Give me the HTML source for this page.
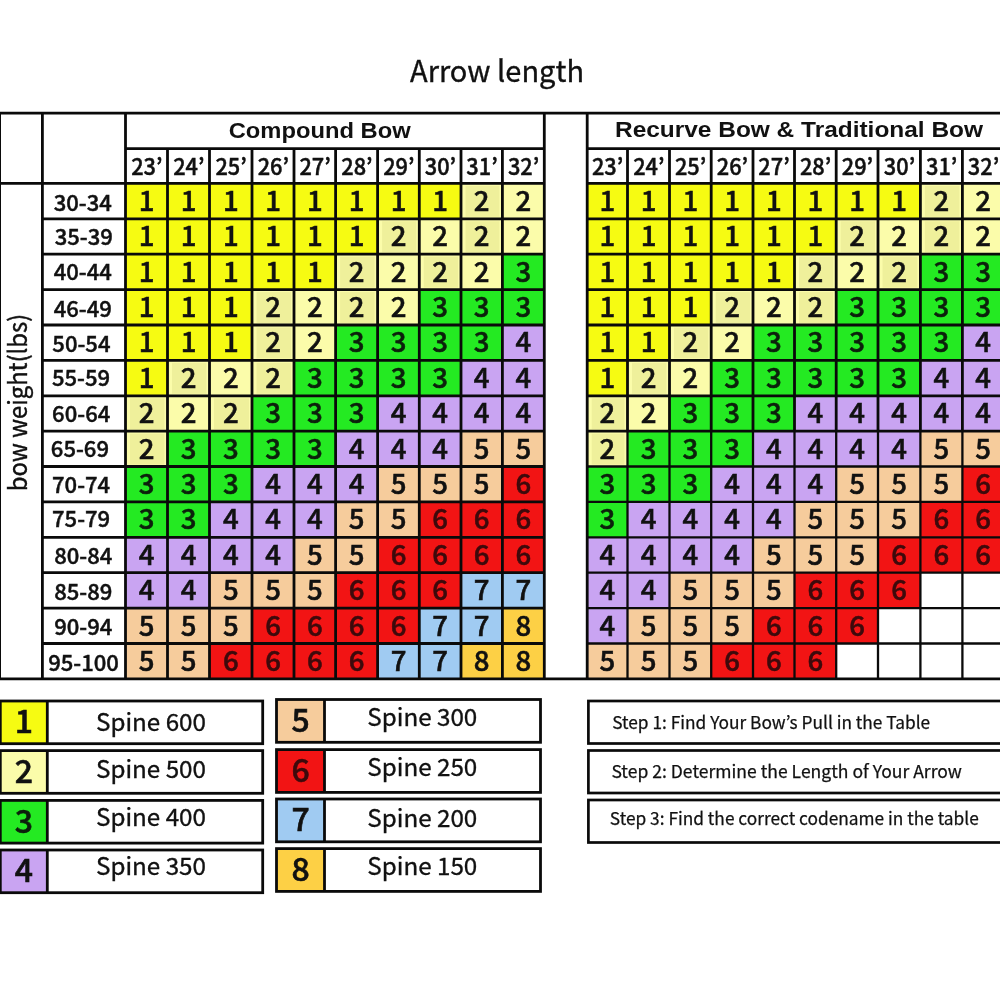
<!DOCTYPE html>
<html lang="en"><head><meta charset="utf-8"><title>Arrow length spine chart</title>
<style>html,body{margin:0;padding:0;background:#fff}body{width:1000px;height:1000px;overflow:hidden}svg{display:block}</style></head>
<body>
<svg width="1000" height="1000" viewBox="0 0 1000 1000">
<rect width="1000" height="1000" fill="#fff"/>
<text x="497" y="82.2" font-family='"Noto Sans CJK JP","Noto Sans CJK SC","Liberation Sans",sans-serif' font-size="29.5" text-anchor="middle" textLength="174" lengthAdjust="spacingAndGlyphs" fill="#111" stroke="#111" stroke-width="0.35">Arrow length</text>
<rect x="125.5" y="183.4" width="42.0" height="35.4" fill="#f6fb12"/>
<rect x="167.5" y="183.4" width="42.0" height="35.4" fill="#f6fb12"/>
<rect x="209.5" y="183.4" width="42.5" height="35.4" fill="#f6fb12"/>
<rect x="252.0" y="183.4" width="42.0" height="35.4" fill="#f6fb12"/>
<rect x="294.0" y="183.4" width="41.6" height="35.4" fill="#f6fb12"/>
<rect x="335.6" y="183.4" width="42.0" height="35.4" fill="#f6fb12"/>
<rect x="377.6" y="183.4" width="41.7" height="35.4" fill="#f6fb12"/>
<rect x="419.3" y="183.4" width="41.7" height="35.4" fill="#f6fb12"/>
<rect x="461.0" y="183.4" width="41.4" height="35.4" fill="#fbfcaa"/>
<rect x="465.5" y="185.9" width="33.9" height="30.9" fill="#eff09b"/>
<rect x="502.4" y="183.4" width="41.9" height="35.4" fill="#fbfcaa"/>
<rect x="125.5" y="218.8" width="42.0" height="35.4" fill="#f6fb12"/>
<rect x="167.5" y="218.8" width="42.0" height="35.4" fill="#f6fb12"/>
<rect x="209.5" y="218.8" width="42.5" height="35.4" fill="#f6fb12"/>
<rect x="252.0" y="218.8" width="42.0" height="35.4" fill="#f6fb12"/>
<rect x="294.0" y="218.8" width="41.6" height="35.4" fill="#f6fb12"/>
<rect x="335.6" y="218.8" width="42.0" height="35.4" fill="#f6fb12"/>
<rect x="377.6" y="218.8" width="41.7" height="35.4" fill="#fbfcaa"/>
<rect x="382.1" y="221.3" width="34.2" height="30.9" fill="#eff09b"/>
<rect x="419.3" y="218.8" width="41.7" height="35.4" fill="#fbfcaa"/>
<rect x="461.0" y="218.8" width="41.4" height="35.4" fill="#fbfcaa"/>
<rect x="465.5" y="221.3" width="33.9" height="30.9" fill="#eff09b"/>
<rect x="502.4" y="218.8" width="41.9" height="35.4" fill="#fbfcaa"/>
<rect x="125.5" y="254.2" width="42.0" height="35.4" fill="#f6fb12"/>
<rect x="167.5" y="254.2" width="42.0" height="35.4" fill="#f6fb12"/>
<rect x="209.5" y="254.2" width="42.5" height="35.4" fill="#f6fb12"/>
<rect x="252.0" y="254.2" width="42.0" height="35.4" fill="#f6fb12"/>
<rect x="294.0" y="254.2" width="41.6" height="35.4" fill="#f6fb12"/>
<rect x="335.6" y="254.2" width="42.0" height="35.4" fill="#fbfcaa"/>
<rect x="340.1" y="256.7" width="34.5" height="30.9" fill="#eff09b"/>
<rect x="377.6" y="254.2" width="41.7" height="35.4" fill="#fbfcaa"/>
<rect x="419.3" y="254.2" width="41.7" height="35.4" fill="#fbfcaa"/>
<rect x="423.8" y="256.7" width="34.2" height="30.9" fill="#eff09b"/>
<rect x="461.0" y="254.2" width="41.4" height="35.4" fill="#fbfcaa"/>
<rect x="502.4" y="254.2" width="41.9" height="35.4" fill="#24ea22"/>
<rect x="125.5" y="289.6" width="42.0" height="35.4" fill="#f6fb12"/>
<rect x="167.5" y="289.6" width="42.0" height="35.4" fill="#f6fb12"/>
<rect x="209.5" y="289.6" width="42.5" height="35.4" fill="#f6fb12"/>
<rect x="252.0" y="289.6" width="42.0" height="35.4" fill="#fbfcaa"/>
<rect x="256.5" y="292.1" width="34.5" height="30.9" fill="#eff09b"/>
<rect x="294.0" y="289.6" width="41.6" height="35.4" fill="#fbfcaa"/>
<rect x="335.6" y="289.6" width="42.0" height="35.4" fill="#fbfcaa"/>
<rect x="340.1" y="292.1" width="34.5" height="30.9" fill="#eff09b"/>
<rect x="377.6" y="289.6" width="41.7" height="35.4" fill="#fbfcaa"/>
<rect x="419.3" y="289.6" width="41.7" height="35.4" fill="#24ea22"/>
<rect x="461.0" y="289.6" width="41.4" height="35.4" fill="#24ea22"/>
<rect x="502.4" y="289.6" width="41.9" height="35.4" fill="#24ea22"/>
<rect x="125.5" y="325.0" width="42.0" height="35.4" fill="#f6fb12"/>
<rect x="167.5" y="325.0" width="42.0" height="35.4" fill="#f6fb12"/>
<rect x="209.5" y="325.0" width="42.5" height="35.4" fill="#f6fb12"/>
<rect x="252.0" y="325.0" width="42.0" height="35.4" fill="#fbfcaa"/>
<rect x="256.5" y="327.5" width="34.5" height="30.9" fill="#eff09b"/>
<rect x="294.0" y="325.0" width="41.6" height="35.4" fill="#fbfcaa"/>
<rect x="335.6" y="325.0" width="42.0" height="35.4" fill="#24ea22"/>
<rect x="377.6" y="325.0" width="41.7" height="35.4" fill="#24ea22"/>
<rect x="419.3" y="325.0" width="41.7" height="35.4" fill="#24ea22"/>
<rect x="461.0" y="325.0" width="41.4" height="35.4" fill="#24ea22"/>
<rect x="502.4" y="325.0" width="41.9" height="35.4" fill="#c9a4f2"/>
<rect x="125.5" y="360.4" width="42.0" height="35.4" fill="#f6fb12"/>
<rect x="167.5" y="360.4" width="42.0" height="35.4" fill="#fbfcaa"/>
<rect x="172.0" y="362.9" width="34.5" height="30.9" fill="#eff09b"/>
<rect x="209.5" y="360.4" width="42.5" height="35.4" fill="#fbfcaa"/>
<rect x="252.0" y="360.4" width="42.0" height="35.4" fill="#fbfcaa"/>
<rect x="256.5" y="362.9" width="34.5" height="30.9" fill="#eff09b"/>
<rect x="294.0" y="360.4" width="41.6" height="35.4" fill="#24ea22"/>
<rect x="335.6" y="360.4" width="42.0" height="35.4" fill="#24ea22"/>
<rect x="377.6" y="360.4" width="41.7" height="35.4" fill="#24ea22"/>
<rect x="419.3" y="360.4" width="41.7" height="35.4" fill="#24ea22"/>
<rect x="461.0" y="360.4" width="41.4" height="35.4" fill="#c9a4f2"/>
<rect x="502.4" y="360.4" width="41.9" height="35.4" fill="#c9a4f2"/>
<rect x="125.5" y="395.8" width="42.0" height="35.4" fill="#fbfcaa"/>
<rect x="130.0" y="398.3" width="34.5" height="30.9" fill="#eff09b"/>
<rect x="167.5" y="395.8" width="42.0" height="35.4" fill="#fbfcaa"/>
<rect x="209.5" y="395.8" width="42.5" height="35.4" fill="#fbfcaa"/>
<rect x="214.0" y="398.3" width="35.0" height="30.9" fill="#eff09b"/>
<rect x="252.0" y="395.8" width="42.0" height="35.4" fill="#24ea22"/>
<rect x="294.0" y="395.8" width="41.6" height="35.4" fill="#24ea22"/>
<rect x="335.6" y="395.8" width="42.0" height="35.4" fill="#24ea22"/>
<rect x="377.6" y="395.8" width="41.7" height="35.4" fill="#c9a4f2"/>
<rect x="419.3" y="395.8" width="41.7" height="35.4" fill="#c9a4f2"/>
<rect x="461.0" y="395.8" width="41.4" height="35.4" fill="#c9a4f2"/>
<rect x="502.4" y="395.8" width="41.9" height="35.4" fill="#c9a4f2"/>
<rect x="125.5" y="431.2" width="42.0" height="35.4" fill="#fbfcaa"/>
<rect x="130.0" y="433.7" width="34.5" height="30.9" fill="#eff09b"/>
<rect x="167.5" y="431.2" width="42.0" height="35.4" fill="#24ea22"/>
<rect x="209.5" y="431.2" width="42.5" height="35.4" fill="#24ea22"/>
<rect x="252.0" y="431.2" width="42.0" height="35.4" fill="#24ea22"/>
<rect x="294.0" y="431.2" width="41.6" height="35.4" fill="#24ea22"/>
<rect x="335.6" y="431.2" width="42.0" height="35.4" fill="#c9a4f2"/>
<rect x="377.6" y="431.2" width="41.7" height="35.4" fill="#c9a4f2"/>
<rect x="419.3" y="431.2" width="41.7" height="35.4" fill="#c9a4f2"/>
<rect x="461.0" y="431.2" width="41.4" height="35.4" fill="#f6cc9c"/>
<rect x="502.4" y="431.2" width="41.9" height="35.4" fill="#f6cc9c"/>
<rect x="125.5" y="466.5" width="42.0" height="35.4" fill="#24ea22"/>
<rect x="167.5" y="466.5" width="42.0" height="35.4" fill="#24ea22"/>
<rect x="209.5" y="466.5" width="42.5" height="35.4" fill="#24ea22"/>
<rect x="252.0" y="466.5" width="42.0" height="35.4" fill="#c9a4f2"/>
<rect x="294.0" y="466.5" width="41.6" height="35.4" fill="#c9a4f2"/>
<rect x="335.6" y="466.5" width="42.0" height="35.4" fill="#c9a4f2"/>
<rect x="377.6" y="466.5" width="41.7" height="35.4" fill="#f6cc9c"/>
<rect x="419.3" y="466.5" width="41.7" height="35.4" fill="#f6cc9c"/>
<rect x="461.0" y="466.5" width="41.4" height="35.4" fill="#f6cc9c"/>
<rect x="502.4" y="466.5" width="41.9" height="35.4" fill="#f21414"/>
<rect x="125.5" y="501.9" width="42.0" height="35.4" fill="#24ea22"/>
<rect x="167.5" y="501.9" width="42.0" height="35.4" fill="#24ea22"/>
<rect x="209.5" y="501.9" width="42.5" height="35.4" fill="#c9a4f2"/>
<rect x="252.0" y="501.9" width="42.0" height="35.4" fill="#c9a4f2"/>
<rect x="294.0" y="501.9" width="41.6" height="35.4" fill="#c9a4f2"/>
<rect x="335.6" y="501.9" width="42.0" height="35.4" fill="#f6cc9c"/>
<rect x="377.6" y="501.9" width="41.7" height="35.4" fill="#f6cc9c"/>
<rect x="419.3" y="501.9" width="41.7" height="35.4" fill="#f21414"/>
<rect x="461.0" y="501.9" width="41.4" height="35.4" fill="#f21414"/>
<rect x="502.4" y="501.9" width="41.9" height="35.4" fill="#f21414"/>
<rect x="125.5" y="537.3" width="42.0" height="35.4" fill="#c9a4f2"/>
<rect x="167.5" y="537.3" width="42.0" height="35.4" fill="#c9a4f2"/>
<rect x="209.5" y="537.3" width="42.5" height="35.4" fill="#c9a4f2"/>
<rect x="252.0" y="537.3" width="42.0" height="35.4" fill="#c9a4f2"/>
<rect x="294.0" y="537.3" width="41.6" height="35.4" fill="#f6cc9c"/>
<rect x="335.6" y="537.3" width="42.0" height="35.4" fill="#f6cc9c"/>
<rect x="377.6" y="537.3" width="41.7" height="35.4" fill="#f21414"/>
<rect x="419.3" y="537.3" width="41.7" height="35.4" fill="#f21414"/>
<rect x="461.0" y="537.3" width="41.4" height="35.4" fill="#f21414"/>
<rect x="502.4" y="537.3" width="41.9" height="35.4" fill="#f21414"/>
<rect x="125.5" y="572.7" width="42.0" height="35.4" fill="#c9a4f2"/>
<rect x="167.5" y="572.7" width="42.0" height="35.4" fill="#c9a4f2"/>
<rect x="209.5" y="572.7" width="42.5" height="35.4" fill="#f6cc9c"/>
<rect x="252.0" y="572.7" width="42.0" height="35.4" fill="#f6cc9c"/>
<rect x="294.0" y="572.7" width="41.6" height="35.4" fill="#f6cc9c"/>
<rect x="335.6" y="572.7" width="42.0" height="35.4" fill="#f21414"/>
<rect x="377.6" y="572.7" width="41.7" height="35.4" fill="#f21414"/>
<rect x="419.3" y="572.7" width="41.7" height="35.4" fill="#f21414"/>
<rect x="461.0" y="572.7" width="41.4" height="35.4" fill="#a0cbf2"/>
<rect x="502.4" y="572.7" width="41.9" height="35.4" fill="#a0cbf2"/>
<rect x="125.5" y="608.1" width="42.0" height="35.4" fill="#f6cc9c"/>
<rect x="167.5" y="608.1" width="42.0" height="35.4" fill="#f6cc9c"/>
<rect x="209.5" y="608.1" width="42.5" height="35.4" fill="#f6cc9c"/>
<rect x="252.0" y="608.1" width="42.0" height="35.4" fill="#f21414"/>
<rect x="294.0" y="608.1" width="41.6" height="35.4" fill="#f21414"/>
<rect x="335.6" y="608.1" width="42.0" height="35.4" fill="#f21414"/>
<rect x="377.6" y="608.1" width="41.7" height="35.4" fill="#f21414"/>
<rect x="419.3" y="608.1" width="41.7" height="35.4" fill="#a0cbf2"/>
<rect x="461.0" y="608.1" width="41.4" height="35.4" fill="#a0cbf2"/>
<rect x="502.4" y="608.1" width="41.9" height="35.4" fill="#fdd045"/>
<rect x="125.5" y="643.5" width="42.0" height="35.4" fill="#f6cc9c"/>
<rect x="167.5" y="643.5" width="42.0" height="35.4" fill="#f6cc9c"/>
<rect x="209.5" y="643.5" width="42.5" height="35.4" fill="#f21414"/>
<rect x="252.0" y="643.5" width="42.0" height="35.4" fill="#f21414"/>
<rect x="294.0" y="643.5" width="41.6" height="35.4" fill="#f21414"/>
<rect x="335.6" y="643.5" width="42.0" height="35.4" fill="#f21414"/>
<rect x="377.6" y="643.5" width="41.7" height="35.4" fill="#a0cbf2"/>
<rect x="419.3" y="643.5" width="41.7" height="35.4" fill="#a0cbf2"/>
<rect x="461.0" y="643.5" width="41.4" height="35.4" fill="#fdd045"/>
<rect x="502.4" y="643.5" width="41.9" height="35.4" fill="#fdd045"/>
<rect x="587.2" y="183.4" width="40.3" height="35.4" fill="#f6fb12"/>
<rect x="627.5" y="183.4" width="42.0" height="35.4" fill="#f6fb12"/>
<rect x="669.5" y="183.4" width="41.7" height="35.4" fill="#f6fb12"/>
<rect x="711.2" y="183.4" width="41.8" height="35.4" fill="#f6fb12"/>
<rect x="753.0" y="183.4" width="41.5" height="35.4" fill="#f6fb12"/>
<rect x="794.5" y="183.4" width="41.7" height="35.4" fill="#f6fb12"/>
<rect x="836.2" y="183.4" width="41.8" height="35.4" fill="#f6fb12"/>
<rect x="878.0" y="183.4" width="42.4" height="35.4" fill="#f6fb12"/>
<rect x="920.4" y="183.4" width="42.0" height="35.4" fill="#fbfcaa"/>
<rect x="924.9" y="185.9" width="34.5" height="30.9" fill="#eff09b"/>
<rect x="962.4" y="183.4" width="41.6" height="35.4" fill="#fbfcaa"/>
<rect x="587.2" y="218.8" width="40.3" height="35.4" fill="#f6fb12"/>
<rect x="627.5" y="218.8" width="42.0" height="35.4" fill="#f6fb12"/>
<rect x="669.5" y="218.8" width="41.7" height="35.4" fill="#f6fb12"/>
<rect x="711.2" y="218.8" width="41.8" height="35.4" fill="#f6fb12"/>
<rect x="753.0" y="218.8" width="41.5" height="35.4" fill="#f6fb12"/>
<rect x="794.5" y="218.8" width="41.7" height="35.4" fill="#f6fb12"/>
<rect x="836.2" y="218.8" width="41.8" height="35.4" fill="#fbfcaa"/>
<rect x="840.7" y="221.3" width="34.3" height="30.9" fill="#eff09b"/>
<rect x="878.0" y="218.8" width="42.4" height="35.4" fill="#fbfcaa"/>
<rect x="920.4" y="218.8" width="42.0" height="35.4" fill="#fbfcaa"/>
<rect x="924.9" y="221.3" width="34.5" height="30.9" fill="#eff09b"/>
<rect x="962.4" y="218.8" width="41.6" height="35.4" fill="#fbfcaa"/>
<rect x="587.2" y="254.2" width="40.3" height="35.4" fill="#f6fb12"/>
<rect x="627.5" y="254.2" width="42.0" height="35.4" fill="#f6fb12"/>
<rect x="669.5" y="254.2" width="41.7" height="35.4" fill="#f6fb12"/>
<rect x="711.2" y="254.2" width="41.8" height="35.4" fill="#f6fb12"/>
<rect x="753.0" y="254.2" width="41.5" height="35.4" fill="#f6fb12"/>
<rect x="794.5" y="254.2" width="41.7" height="35.4" fill="#fbfcaa"/>
<rect x="799.0" y="256.7" width="34.2" height="30.9" fill="#eff09b"/>
<rect x="836.2" y="254.2" width="41.8" height="35.4" fill="#fbfcaa"/>
<rect x="878.0" y="254.2" width="42.4" height="35.4" fill="#fbfcaa"/>
<rect x="882.5" y="256.7" width="34.9" height="30.9" fill="#eff09b"/>
<rect x="920.4" y="254.2" width="42.0" height="35.4" fill="#24ea22"/>
<rect x="962.4" y="254.2" width="41.6" height="35.4" fill="#24ea22"/>
<rect x="587.2" y="289.6" width="40.3" height="35.4" fill="#f6fb12"/>
<rect x="627.5" y="289.6" width="42.0" height="35.4" fill="#f6fb12"/>
<rect x="669.5" y="289.6" width="41.7" height="35.4" fill="#f6fb12"/>
<rect x="711.2" y="289.6" width="41.8" height="35.4" fill="#fbfcaa"/>
<rect x="715.7" y="292.1" width="34.3" height="30.9" fill="#eff09b"/>
<rect x="753.0" y="289.6" width="41.5" height="35.4" fill="#fbfcaa"/>
<rect x="794.5" y="289.6" width="41.7" height="35.4" fill="#fbfcaa"/>
<rect x="799.0" y="292.1" width="34.2" height="30.9" fill="#eff09b"/>
<rect x="836.2" y="289.6" width="41.8" height="35.4" fill="#24ea22"/>
<rect x="878.0" y="289.6" width="42.4" height="35.4" fill="#24ea22"/>
<rect x="920.4" y="289.6" width="42.0" height="35.4" fill="#24ea22"/>
<rect x="962.4" y="289.6" width="41.6" height="35.4" fill="#24ea22"/>
<rect x="587.2" y="325.0" width="40.3" height="35.4" fill="#f6fb12"/>
<rect x="627.5" y="325.0" width="42.0" height="35.4" fill="#f6fb12"/>
<rect x="669.5" y="325.0" width="41.7" height="35.4" fill="#fbfcaa"/>
<rect x="674.0" y="327.5" width="34.2" height="30.9" fill="#eff09b"/>
<rect x="711.2" y="325.0" width="41.8" height="35.4" fill="#fbfcaa"/>
<rect x="753.0" y="325.0" width="41.5" height="35.4" fill="#24ea22"/>
<rect x="794.5" y="325.0" width="41.7" height="35.4" fill="#24ea22"/>
<rect x="836.2" y="325.0" width="41.8" height="35.4" fill="#24ea22"/>
<rect x="878.0" y="325.0" width="42.4" height="35.4" fill="#24ea22"/>
<rect x="920.4" y="325.0" width="42.0" height="35.4" fill="#24ea22"/>
<rect x="962.4" y="325.0" width="41.6" height="35.4" fill="#c9a4f2"/>
<rect x="587.2" y="360.4" width="40.3" height="35.4" fill="#f6fb12"/>
<rect x="627.5" y="360.4" width="42.0" height="35.4" fill="#fbfcaa"/>
<rect x="632.0" y="362.9" width="34.5" height="30.9" fill="#eff09b"/>
<rect x="669.5" y="360.4" width="41.7" height="35.4" fill="#fbfcaa"/>
<rect x="711.2" y="360.4" width="41.8" height="35.4" fill="#24ea22"/>
<rect x="753.0" y="360.4" width="41.5" height="35.4" fill="#24ea22"/>
<rect x="794.5" y="360.4" width="41.7" height="35.4" fill="#24ea22"/>
<rect x="836.2" y="360.4" width="41.8" height="35.4" fill="#24ea22"/>
<rect x="878.0" y="360.4" width="42.4" height="35.4" fill="#24ea22"/>
<rect x="920.4" y="360.4" width="42.0" height="35.4" fill="#c9a4f2"/>
<rect x="962.4" y="360.4" width="41.6" height="35.4" fill="#c9a4f2"/>
<rect x="587.2" y="395.8" width="40.3" height="35.4" fill="#fbfcaa"/>
<rect x="591.7" y="398.3" width="32.8" height="30.9" fill="#eff09b"/>
<rect x="627.5" y="395.8" width="42.0" height="35.4" fill="#fbfcaa"/>
<rect x="669.5" y="395.8" width="41.7" height="35.4" fill="#24ea22"/>
<rect x="711.2" y="395.8" width="41.8" height="35.4" fill="#24ea22"/>
<rect x="753.0" y="395.8" width="41.5" height="35.4" fill="#24ea22"/>
<rect x="794.5" y="395.8" width="41.7" height="35.4" fill="#c9a4f2"/>
<rect x="836.2" y="395.8" width="41.8" height="35.4" fill="#c9a4f2"/>
<rect x="878.0" y="395.8" width="42.4" height="35.4" fill="#c9a4f2"/>
<rect x="920.4" y="395.8" width="42.0" height="35.4" fill="#c9a4f2"/>
<rect x="962.4" y="395.8" width="41.6" height="35.4" fill="#c9a4f2"/>
<rect x="587.2" y="431.2" width="40.3" height="35.4" fill="#fbfcaa"/>
<rect x="591.7" y="433.7" width="32.8" height="30.9" fill="#eff09b"/>
<rect x="627.5" y="431.2" width="42.0" height="35.4" fill="#24ea22"/>
<rect x="669.5" y="431.2" width="41.7" height="35.4" fill="#24ea22"/>
<rect x="711.2" y="431.2" width="41.8" height="35.4" fill="#24ea22"/>
<rect x="753.0" y="431.2" width="41.5" height="35.4" fill="#c9a4f2"/>
<rect x="794.5" y="431.2" width="41.7" height="35.4" fill="#c9a4f2"/>
<rect x="836.2" y="431.2" width="41.8" height="35.4" fill="#c9a4f2"/>
<rect x="878.0" y="431.2" width="42.4" height="35.4" fill="#c9a4f2"/>
<rect x="920.4" y="431.2" width="42.0" height="35.4" fill="#f6cc9c"/>
<rect x="962.4" y="431.2" width="41.6" height="35.4" fill="#f6cc9c"/>
<rect x="587.2" y="466.5" width="40.3" height="35.4" fill="#24ea22"/>
<rect x="627.5" y="466.5" width="42.0" height="35.4" fill="#24ea22"/>
<rect x="669.5" y="466.5" width="41.7" height="35.4" fill="#24ea22"/>
<rect x="711.2" y="466.5" width="41.8" height="35.4" fill="#c9a4f2"/>
<rect x="753.0" y="466.5" width="41.5" height="35.4" fill="#c9a4f2"/>
<rect x="794.5" y="466.5" width="41.7" height="35.4" fill="#c9a4f2"/>
<rect x="836.2" y="466.5" width="41.8" height="35.4" fill="#f6cc9c"/>
<rect x="878.0" y="466.5" width="42.4" height="35.4" fill="#f6cc9c"/>
<rect x="920.4" y="466.5" width="42.0" height="35.4" fill="#f6cc9c"/>
<rect x="962.4" y="466.5" width="41.6" height="35.4" fill="#f21414"/>
<rect x="587.2" y="501.9" width="40.3" height="35.4" fill="#24ea22"/>
<rect x="627.5" y="501.9" width="42.0" height="35.4" fill="#c9a4f2"/>
<rect x="669.5" y="501.9" width="41.7" height="35.4" fill="#c9a4f2"/>
<rect x="711.2" y="501.9" width="41.8" height="35.4" fill="#c9a4f2"/>
<rect x="753.0" y="501.9" width="41.5" height="35.4" fill="#c9a4f2"/>
<rect x="794.5" y="501.9" width="41.7" height="35.4" fill="#f6cc9c"/>
<rect x="836.2" y="501.9" width="41.8" height="35.4" fill="#f6cc9c"/>
<rect x="878.0" y="501.9" width="42.4" height="35.4" fill="#f6cc9c"/>
<rect x="920.4" y="501.9" width="42.0" height="35.4" fill="#f21414"/>
<rect x="962.4" y="501.9" width="41.6" height="35.4" fill="#f21414"/>
<rect x="587.2" y="537.3" width="40.3" height="35.4" fill="#c9a4f2"/>
<rect x="627.5" y="537.3" width="42.0" height="35.4" fill="#c9a4f2"/>
<rect x="669.5" y="537.3" width="41.7" height="35.4" fill="#c9a4f2"/>
<rect x="711.2" y="537.3" width="41.8" height="35.4" fill="#c9a4f2"/>
<rect x="753.0" y="537.3" width="41.5" height="35.4" fill="#f6cc9c"/>
<rect x="794.5" y="537.3" width="41.7" height="35.4" fill="#f6cc9c"/>
<rect x="836.2" y="537.3" width="41.8" height="35.4" fill="#f6cc9c"/>
<rect x="878.0" y="537.3" width="42.4" height="35.4" fill="#f21414"/>
<rect x="920.4" y="537.3" width="42.0" height="35.4" fill="#f21414"/>
<rect x="962.4" y="537.3" width="41.6" height="35.4" fill="#f21414"/>
<rect x="587.2" y="572.7" width="40.3" height="35.4" fill="#c9a4f2"/>
<rect x="627.5" y="572.7" width="42.0" height="35.4" fill="#c9a4f2"/>
<rect x="669.5" y="572.7" width="41.7" height="35.4" fill="#f6cc9c"/>
<rect x="711.2" y="572.7" width="41.8" height="35.4" fill="#f6cc9c"/>
<rect x="753.0" y="572.7" width="41.5" height="35.4" fill="#f6cc9c"/>
<rect x="794.5" y="572.7" width="41.7" height="35.4" fill="#f21414"/>
<rect x="836.2" y="572.7" width="41.8" height="35.4" fill="#f21414"/>
<rect x="878.0" y="572.7" width="42.4" height="35.4" fill="#f21414"/>
<rect x="587.2" y="608.1" width="40.3" height="35.4" fill="#c9a4f2"/>
<rect x="627.5" y="608.1" width="42.0" height="35.4" fill="#f6cc9c"/>
<rect x="669.5" y="608.1" width="41.7" height="35.4" fill="#f6cc9c"/>
<rect x="711.2" y="608.1" width="41.8" height="35.4" fill="#f6cc9c"/>
<rect x="753.0" y="608.1" width="41.5" height="35.4" fill="#f21414"/>
<rect x="794.5" y="608.1" width="41.7" height="35.4" fill="#f21414"/>
<rect x="836.2" y="608.1" width="41.8" height="35.4" fill="#f21414"/>
<rect x="587.2" y="643.5" width="40.3" height="35.4" fill="#f6cc9c"/>
<rect x="627.5" y="643.5" width="42.0" height="35.4" fill="#f6cc9c"/>
<rect x="669.5" y="643.5" width="41.7" height="35.4" fill="#f6cc9c"/>
<rect x="711.2" y="643.5" width="41.8" height="35.4" fill="#f21414"/>
<rect x="753.0" y="643.5" width="41.5" height="35.4" fill="#f21414"/>
<rect x="794.5" y="643.5" width="41.7" height="35.4" fill="#f21414"/>
<line x1="0.0" y1="113.2" x2="1000.0" y2="113.2" stroke="#0a0a0a" stroke-width="2.8"/>
<line x1="0.0" y1="678.9" x2="1000.0" y2="678.9" stroke="#0a0a0a" stroke-width="2.8"/>
<line x1="-0.4" y1="113.2" x2="-0.4" y2="678.9" stroke="#0a0a0a" stroke-width="2.8"/>
<line x1="42.4" y1="113.2" x2="42.4" y2="678.9" stroke="#0a0a0a" stroke-width="2.8"/>
<line x1="0.0" y1="183.4" x2="125.5" y2="183.4" stroke="#0a0a0a" stroke-width="2.8"/>
<line x1="125.5" y1="113.2" x2="125.5" y2="678.9" stroke="#0a0a0a" stroke-width="2.8"/>
<line x1="544.3" y1="113.2" x2="544.3" y2="678.9" stroke="#0a0a0a" stroke-width="2.8"/>
<line x1="167.5" y1="148.6" x2="167.5" y2="678.9" stroke="#0a0a0a" stroke-width="2.8"/>
<line x1="209.5" y1="148.6" x2="209.5" y2="678.9" stroke="#0a0a0a" stroke-width="2.8"/>
<line x1="252.0" y1="148.6" x2="252.0" y2="678.9" stroke="#0a0a0a" stroke-width="2.8"/>
<line x1="294.0" y1="148.6" x2="294.0" y2="678.9" stroke="#0a0a0a" stroke-width="2.8"/>
<line x1="335.6" y1="148.6" x2="335.6" y2="678.9" stroke="#0a0a0a" stroke-width="2.8"/>
<line x1="377.6" y1="148.6" x2="377.6" y2="678.9" stroke="#0a0a0a" stroke-width="2.8"/>
<line x1="419.3" y1="148.6" x2="419.3" y2="678.9" stroke="#0a0a0a" stroke-width="2.8"/>
<line x1="461.0" y1="148.6" x2="461.0" y2="678.9" stroke="#0a0a0a" stroke-width="2.8"/>
<line x1="502.4" y1="148.6" x2="502.4" y2="678.9" stroke="#0a0a0a" stroke-width="2.8"/>
<line x1="125.5" y1="148.6" x2="544.3" y2="148.6" stroke="#0a0a0a" stroke-width="2.8"/>
<line x1="125.5" y1="183.4" x2="544.3" y2="183.4" stroke="#0a0a0a" stroke-width="2.8"/>
<line x1="42.4" y1="218.8" x2="544.3" y2="218.8" stroke="#0a0a0a" stroke-width="2.8"/>
<line x1="42.4" y1="254.2" x2="544.3" y2="254.2" stroke="#0a0a0a" stroke-width="2.8"/>
<line x1="42.4" y1="289.6" x2="544.3" y2="289.6" stroke="#0a0a0a" stroke-width="2.8"/>
<line x1="42.4" y1="325.0" x2="544.3" y2="325.0" stroke="#0a0a0a" stroke-width="2.8"/>
<line x1="42.4" y1="360.4" x2="544.3" y2="360.4" stroke="#0a0a0a" stroke-width="2.8"/>
<line x1="42.4" y1="395.8" x2="544.3" y2="395.8" stroke="#0a0a0a" stroke-width="2.8"/>
<line x1="42.4" y1="431.2" x2="544.3" y2="431.2" stroke="#0a0a0a" stroke-width="2.8"/>
<line x1="42.4" y1="466.5" x2="544.3" y2="466.5" stroke="#0a0a0a" stroke-width="2.8"/>
<line x1="42.4" y1="501.9" x2="544.3" y2="501.9" stroke="#0a0a0a" stroke-width="2.8"/>
<line x1="42.4" y1="537.3" x2="544.3" y2="537.3" stroke="#0a0a0a" stroke-width="2.8"/>
<line x1="42.4" y1="572.7" x2="544.3" y2="572.7" stroke="#0a0a0a" stroke-width="2.8"/>
<line x1="42.4" y1="608.1" x2="544.3" y2="608.1" stroke="#0a0a0a" stroke-width="2.8"/>
<line x1="42.4" y1="643.5" x2="544.3" y2="643.5" stroke="#0a0a0a" stroke-width="2.8"/>
<line x1="587.2" y1="113.2" x2="587.2" y2="678.9" stroke="#0a0a0a" stroke-width="2.8"/>
<line x1="627.5" y1="148.6" x2="627.5" y2="431.2" stroke="#0a0a0a" stroke-width="2.8"/>
<line x1="627.5" y1="431.2" x2="627.5" y2="678.9" stroke="#0a0a0a" stroke-width="2.3"/>
<line x1="669.5" y1="148.6" x2="669.5" y2="431.2" stroke="#0a0a0a" stroke-width="2.8"/>
<line x1="669.5" y1="431.2" x2="669.5" y2="678.9" stroke="#0a0a0a" stroke-width="2.3"/>
<line x1="711.2" y1="148.6" x2="711.2" y2="431.2" stroke="#0a0a0a" stroke-width="2.8"/>
<line x1="711.2" y1="431.2" x2="711.2" y2="678.9" stroke="#0a0a0a" stroke-width="2.3"/>
<line x1="753.0" y1="148.6" x2="753.0" y2="431.2" stroke="#0a0a0a" stroke-width="2.8"/>
<line x1="753.0" y1="431.2" x2="753.0" y2="678.9" stroke="#0a0a0a" stroke-width="2.3"/>
<line x1="794.5" y1="148.6" x2="794.5" y2="431.2" stroke="#0a0a0a" stroke-width="2.8"/>
<line x1="794.5" y1="431.2" x2="794.5" y2="678.9" stroke="#0a0a0a" stroke-width="2.3"/>
<line x1="836.2" y1="148.6" x2="836.2" y2="431.2" stroke="#0a0a0a" stroke-width="2.8"/>
<line x1="836.2" y1="431.2" x2="836.2" y2="678.9" stroke="#0a0a0a" stroke-width="2.3"/>
<line x1="878.0" y1="148.6" x2="878.0" y2="431.2" stroke="#0a0a0a" stroke-width="2.8"/>
<line x1="878.0" y1="431.2" x2="878.0" y2="678.9" stroke="#0a0a0a" stroke-width="2.3"/>
<line x1="920.4" y1="148.6" x2="920.4" y2="431.2" stroke="#0a0a0a" stroke-width="2.8"/>
<line x1="920.4" y1="431.2" x2="920.4" y2="678.9" stroke="#0a0a0a" stroke-width="2.3"/>
<line x1="962.4" y1="148.6" x2="962.4" y2="431.2" stroke="#0a0a0a" stroke-width="2.8"/>
<line x1="962.4" y1="431.2" x2="962.4" y2="678.9" stroke="#0a0a0a" stroke-width="2.3"/>
<line x1="587.2" y1="148.6" x2="1000.0" y2="148.6" stroke="#0a0a0a" stroke-width="2.8"/>
<line x1="587.2" y1="183.4" x2="1000.0" y2="183.4" stroke="#0a0a0a" stroke-width="2.8"/>
<line x1="587.2" y1="218.8" x2="1000.0" y2="218.8" stroke="#0a0a0a" stroke-width="2.8"/>
<line x1="587.2" y1="254.2" x2="1000.0" y2="254.2" stroke="#0a0a0a" stroke-width="2.8"/>
<line x1="587.2" y1="289.6" x2="1000.0" y2="289.6" stroke="#0a0a0a" stroke-width="2.8"/>
<line x1="587.2" y1="325.0" x2="1000.0" y2="325.0" stroke="#0a0a0a" stroke-width="2.8"/>
<line x1="587.2" y1="360.4" x2="1000.0" y2="360.4" stroke="#0a0a0a" stroke-width="2.8"/>
<line x1="587.2" y1="395.8" x2="1000.0" y2="395.8" stroke="#0a0a0a" stroke-width="2.8"/>
<line x1="587.2" y1="431.2" x2="1000.0" y2="431.2" stroke="#0a0a0a" stroke-width="2.8"/>
<line x1="587.2" y1="466.5" x2="1000.0" y2="466.5" stroke="#0a0a0a" stroke-width="2.3"/>
<line x1="587.2" y1="501.9" x2="1000.0" y2="501.9" stroke="#0a0a0a" stroke-width="2.3"/>
<line x1="587.2" y1="537.3" x2="1000.0" y2="537.3" stroke="#0a0a0a" stroke-width="2.3"/>
<line x1="587.2" y1="572.7" x2="1000.0" y2="572.7" stroke="#0a0a0a" stroke-width="2.3"/>
<line x1="587.2" y1="608.1" x2="1000.0" y2="608.1" stroke="#0a0a0a" stroke-width="2.3"/>
<line x1="587.2" y1="643.5" x2="1000.0" y2="643.5" stroke="#0a0a0a" stroke-width="2.3"/>
<text x="319.7" y="137.6" font-family='"Liberation Sans",sans-serif' font-weight="bold" font-size="22.8" text-anchor="middle" textLength="182" lengthAdjust="spacingAndGlyphs" fill="#111">Compound Bow</text>
<text x="799" y="137.0" font-family='"Liberation Sans",sans-serif' font-weight="bold" font-size="22.8" text-anchor="middle" textLength="368" lengthAdjust="spacingAndGlyphs" fill="#111">Recurve Bow &amp; Traditional Bow</text>
<text transform="translate(146.8 174.6) scale(0.96 1)" font-family='"Noto Sans CJK JP","Noto Sans CJK SC","Liberation Sans",sans-serif' font-weight="500" font-size="22.7" text-anchor="middle" fill="#111" stroke="#111" stroke-width="0.45">23’</text>
<text transform="translate(188.8 174.6) scale(0.96 1)" font-family='"Noto Sans CJK JP","Noto Sans CJK SC","Liberation Sans",sans-serif' font-weight="500" font-size="22.7" text-anchor="middle" fill="#111" stroke="#111" stroke-width="0.45">24’</text>
<text transform="translate(231.1 174.6) scale(0.96 1)" font-family='"Noto Sans CJK JP","Noto Sans CJK SC","Liberation Sans",sans-serif' font-weight="500" font-size="22.7" text-anchor="middle" fill="#111" stroke="#111" stroke-width="0.45">25’</text>
<text transform="translate(273.3 174.6) scale(0.96 1)" font-family='"Noto Sans CJK JP","Noto Sans CJK SC","Liberation Sans",sans-serif' font-weight="500" font-size="22.7" text-anchor="middle" fill="#111" stroke="#111" stroke-width="0.45">26’</text>
<text transform="translate(315.1 174.6) scale(0.96 1)" font-family='"Noto Sans CJK JP","Noto Sans CJK SC","Liberation Sans",sans-serif' font-weight="500" font-size="22.7" text-anchor="middle" fill="#111" stroke="#111" stroke-width="0.45">27’</text>
<text transform="translate(356.9 174.6) scale(0.96 1)" font-family='"Noto Sans CJK JP","Noto Sans CJK SC","Liberation Sans",sans-serif' font-weight="500" font-size="22.7" text-anchor="middle" fill="#111" stroke="#111" stroke-width="0.45">28’</text>
<text transform="translate(398.8 174.6) scale(0.96 1)" font-family='"Noto Sans CJK JP","Noto Sans CJK SC","Liberation Sans",sans-serif' font-weight="500" font-size="22.7" text-anchor="middle" fill="#111" stroke="#111" stroke-width="0.45">29’</text>
<text transform="translate(440.4 174.6) scale(0.96 1)" font-family='"Noto Sans CJK JP","Noto Sans CJK SC","Liberation Sans",sans-serif' font-weight="500" font-size="22.7" text-anchor="middle" fill="#111" stroke="#111" stroke-width="0.45">30’</text>
<text transform="translate(482.0 174.6) scale(0.96 1)" font-family='"Noto Sans CJK JP","Noto Sans CJK SC","Liberation Sans",sans-serif' font-weight="500" font-size="22.7" text-anchor="middle" fill="#111" stroke="#111" stroke-width="0.45">31’</text>
<text transform="translate(523.6 174.6) scale(0.96 1)" font-family='"Noto Sans CJK JP","Noto Sans CJK SC","Liberation Sans",sans-serif' font-weight="500" font-size="22.7" text-anchor="middle" fill="#111" stroke="#111" stroke-width="0.45">32’</text>
<text transform="translate(607.6 174.6) scale(0.96 1)" font-family='"Noto Sans CJK JP","Noto Sans CJK SC","Liberation Sans",sans-serif' font-weight="500" font-size="22.7" text-anchor="middle" fill="#111" stroke="#111" stroke-width="0.45">23’</text>
<text transform="translate(648.8 174.6) scale(0.96 1)" font-family='"Noto Sans CJK JP","Noto Sans CJK SC","Liberation Sans",sans-serif' font-weight="500" font-size="22.7" text-anchor="middle" fill="#111" stroke="#111" stroke-width="0.45">24’</text>
<text transform="translate(690.6 174.6) scale(0.96 1)" font-family='"Noto Sans CJK JP","Noto Sans CJK SC","Liberation Sans",sans-serif' font-weight="500" font-size="22.7" text-anchor="middle" fill="#111" stroke="#111" stroke-width="0.45">25’</text>
<text transform="translate(732.4 174.6) scale(0.96 1)" font-family='"Noto Sans CJK JP","Noto Sans CJK SC","Liberation Sans",sans-serif' font-weight="500" font-size="22.7" text-anchor="middle" fill="#111" stroke="#111" stroke-width="0.45">26’</text>
<text transform="translate(774.0 174.6) scale(0.96 1)" font-family='"Noto Sans CJK JP","Noto Sans CJK SC","Liberation Sans",sans-serif' font-weight="500" font-size="22.7" text-anchor="middle" fill="#111" stroke="#111" stroke-width="0.45">27’</text>
<text transform="translate(815.6 174.6) scale(0.96 1)" font-family='"Noto Sans CJK JP","Noto Sans CJK SC","Liberation Sans",sans-serif' font-weight="500" font-size="22.7" text-anchor="middle" fill="#111" stroke="#111" stroke-width="0.45">28’</text>
<text transform="translate(857.4 174.6) scale(0.96 1)" font-family='"Noto Sans CJK JP","Noto Sans CJK SC","Liberation Sans",sans-serif' font-weight="500" font-size="22.7" text-anchor="middle" fill="#111" stroke="#111" stroke-width="0.45">29’</text>
<text transform="translate(899.5 174.6) scale(0.96 1)" font-family='"Noto Sans CJK JP","Noto Sans CJK SC","Liberation Sans",sans-serif' font-weight="500" font-size="22.7" text-anchor="middle" fill="#111" stroke="#111" stroke-width="0.45">30’</text>
<text transform="translate(941.7 174.6) scale(0.96 1)" font-family='"Noto Sans CJK JP","Noto Sans CJK SC","Liberation Sans",sans-serif' font-weight="500" font-size="22.7" text-anchor="middle" fill="#111" stroke="#111" stroke-width="0.45">31’</text>
<text transform="translate(983.5 174.6) scale(0.96 1)" font-family='"Noto Sans CJK JP","Noto Sans CJK SC","Liberation Sans",sans-serif' font-weight="500" font-size="22.7" text-anchor="middle" fill="#111" stroke="#111" stroke-width="0.45">32’</text>
<text transform="translate(82.8 210.8) scale(0.99 1)" font-family='"Noto Sans CJK JP","Noto Sans CJK SC","Liberation Sans",sans-serif' font-weight="500" font-size="22.3" text-anchor="middle" fill="#111" stroke="#111" stroke-width="0.45">30-34</text>
<text transform="translate(83.8 245.0) scale(0.99 1)" font-family='"Noto Sans CJK JP","Noto Sans CJK SC","Liberation Sans",sans-serif' font-weight="500" font-size="22.3" text-anchor="middle" fill="#111" stroke="#111" stroke-width="0.45">35-39</text>
<text transform="translate(82.8 280.3) scale(0.99 1)" font-family='"Noto Sans CJK JP","Noto Sans CJK SC","Liberation Sans",sans-serif' font-weight="500" font-size="22.3" text-anchor="middle" fill="#111" stroke="#111" stroke-width="0.45">40-44</text>
<text transform="translate(82.8 317.0) scale(0.99 1)" font-family='"Noto Sans CJK JP","Noto Sans CJK SC","Liberation Sans",sans-serif' font-weight="500" font-size="22.3" text-anchor="middle" fill="#111" stroke="#111" stroke-width="0.45">46-49</text>
<text transform="translate(81.4 352.1) scale(0.99 1)" font-family='"Noto Sans CJK JP","Noto Sans CJK SC","Liberation Sans",sans-serif' font-weight="500" font-size="22.3" text-anchor="middle" fill="#111" stroke="#111" stroke-width="0.45">50-54</text>
<text transform="translate(81.0 386.1) scale(0.99 1)" font-family='"Noto Sans CJK JP","Noto Sans CJK SC","Liberation Sans",sans-serif' font-weight="500" font-size="22.3" text-anchor="middle" fill="#111" stroke="#111" stroke-width="0.45">55-59</text>
<text transform="translate(81.2 421.7) scale(0.99 1)" font-family='"Noto Sans CJK JP","Noto Sans CJK SC","Liberation Sans",sans-serif' font-weight="500" font-size="22.3" text-anchor="middle" fill="#111" stroke="#111" stroke-width="0.45">60-64</text>
<text transform="translate(79.9 456.6) scale(0.99 1)" font-family='"Noto Sans CJK JP","Noto Sans CJK SC","Liberation Sans",sans-serif' font-weight="500" font-size="22.3" text-anchor="middle" fill="#111" stroke="#111" stroke-width="0.45">65-69</text>
<text transform="translate(81.1 492.5) scale(0.99 1)" font-family='"Noto Sans CJK JP","Noto Sans CJK SC","Liberation Sans",sans-serif' font-weight="500" font-size="22.3" text-anchor="middle" fill="#111" stroke="#111" stroke-width="0.45">70-74</text>
<text transform="translate(81.1 527.1) scale(0.99 1)" font-family='"Noto Sans CJK JP","Noto Sans CJK SC","Liberation Sans",sans-serif' font-weight="500" font-size="22.3" text-anchor="middle" fill="#111" stroke="#111" stroke-width="0.45">75-79</text>
<text transform="translate(83.3 564.1) scale(0.99 1)" font-family='"Noto Sans CJK JP","Noto Sans CJK SC","Liberation Sans",sans-serif' font-weight="500" font-size="22.3" text-anchor="middle" fill="#111" stroke="#111" stroke-width="0.45">80-84</text>
<text transform="translate(83.3 599.9) scale(0.99 1)" font-family='"Noto Sans CJK JP","Noto Sans CJK SC","Liberation Sans",sans-serif' font-weight="500" font-size="22.3" text-anchor="middle" fill="#111" stroke="#111" stroke-width="0.45">85-89</text>
<text transform="translate(83.3 635.1) scale(0.99 1)" font-family='"Noto Sans CJK JP","Noto Sans CJK SC","Liberation Sans",sans-serif' font-weight="500" font-size="22.3" text-anchor="middle" fill="#111" stroke="#111" stroke-width="0.45">90-94</text>
<text transform="translate(83.5 670.7) scale(0.99 1)" font-family='"Noto Sans CJK JP","Noto Sans CJK SC","Liberation Sans",sans-serif' font-weight="500" font-size="22.3" text-anchor="middle" fill="#111" stroke="#111" stroke-width="0.45">95-100</text>
<text x="146.5" y="210.8" font-family='"Noto Sans CJK JP","Noto Sans CJK SC","Liberation Sans",sans-serif' font-weight="500" font-size="27.6" text-anchor="middle" fill="#111" stroke="#111" stroke-width="0.55">1</text>
<text x="188.5" y="210.8" font-family='"Noto Sans CJK JP","Noto Sans CJK SC","Liberation Sans",sans-serif' font-weight="500" font-size="27.6" text-anchor="middle" fill="#111" stroke="#111" stroke-width="0.55">1</text>
<text x="230.8" y="210.8" font-family='"Noto Sans CJK JP","Noto Sans CJK SC","Liberation Sans",sans-serif' font-weight="500" font-size="27.6" text-anchor="middle" fill="#111" stroke="#111" stroke-width="0.55">1</text>
<text x="273.0" y="210.8" font-family='"Noto Sans CJK JP","Noto Sans CJK SC","Liberation Sans",sans-serif' font-weight="500" font-size="27.6" text-anchor="middle" fill="#111" stroke="#111" stroke-width="0.55">1</text>
<text x="314.8" y="210.8" font-family='"Noto Sans CJK JP","Noto Sans CJK SC","Liberation Sans",sans-serif' font-weight="500" font-size="27.6" text-anchor="middle" fill="#111" stroke="#111" stroke-width="0.55">1</text>
<text x="356.6" y="210.8" font-family='"Noto Sans CJK JP","Noto Sans CJK SC","Liberation Sans",sans-serif' font-weight="500" font-size="27.6" text-anchor="middle" fill="#111" stroke="#111" stroke-width="0.55">1</text>
<text x="398.5" y="210.8" font-family='"Noto Sans CJK JP","Noto Sans CJK SC","Liberation Sans",sans-serif' font-weight="500" font-size="27.6" text-anchor="middle" fill="#111" stroke="#111" stroke-width="0.55">1</text>
<text x="440.1" y="210.8" font-family='"Noto Sans CJK JP","Noto Sans CJK SC","Liberation Sans",sans-serif' font-weight="500" font-size="27.6" text-anchor="middle" fill="#111" stroke="#111" stroke-width="0.55">1</text>
<text x="481.7" y="210.8" font-family='"Noto Sans CJK JP","Noto Sans CJK SC","Liberation Sans",sans-serif' font-weight="500" font-size="27.6" text-anchor="middle" fill="#111" stroke="#111" stroke-width="0.55">2</text>
<text x="523.3" y="210.8" font-family='"Noto Sans CJK JP","Noto Sans CJK SC","Liberation Sans",sans-serif' font-weight="500" font-size="27.6" text-anchor="middle" fill="#111" stroke="#111" stroke-width="0.55">2</text>
<text x="146.5" y="246.2" font-family='"Noto Sans CJK JP","Noto Sans CJK SC","Liberation Sans",sans-serif' font-weight="500" font-size="27.6" text-anchor="middle" fill="#111" stroke="#111" stroke-width="0.55">1</text>
<text x="188.5" y="246.2" font-family='"Noto Sans CJK JP","Noto Sans CJK SC","Liberation Sans",sans-serif' font-weight="500" font-size="27.6" text-anchor="middle" fill="#111" stroke="#111" stroke-width="0.55">1</text>
<text x="230.8" y="246.2" font-family='"Noto Sans CJK JP","Noto Sans CJK SC","Liberation Sans",sans-serif' font-weight="500" font-size="27.6" text-anchor="middle" fill="#111" stroke="#111" stroke-width="0.55">1</text>
<text x="273.0" y="246.2" font-family='"Noto Sans CJK JP","Noto Sans CJK SC","Liberation Sans",sans-serif' font-weight="500" font-size="27.6" text-anchor="middle" fill="#111" stroke="#111" stroke-width="0.55">1</text>
<text x="314.8" y="246.2" font-family='"Noto Sans CJK JP","Noto Sans CJK SC","Liberation Sans",sans-serif' font-weight="500" font-size="27.6" text-anchor="middle" fill="#111" stroke="#111" stroke-width="0.55">1</text>
<text x="356.6" y="246.2" font-family='"Noto Sans CJK JP","Noto Sans CJK SC","Liberation Sans",sans-serif' font-weight="500" font-size="27.6" text-anchor="middle" fill="#111" stroke="#111" stroke-width="0.55">1</text>
<text x="398.5" y="246.2" font-family='"Noto Sans CJK JP","Noto Sans CJK SC","Liberation Sans",sans-serif' font-weight="500" font-size="27.6" text-anchor="middle" fill="#111" stroke="#111" stroke-width="0.55">2</text>
<text x="440.1" y="246.2" font-family='"Noto Sans CJK JP","Noto Sans CJK SC","Liberation Sans",sans-serif' font-weight="500" font-size="27.6" text-anchor="middle" fill="#111" stroke="#111" stroke-width="0.55">2</text>
<text x="481.7" y="246.2" font-family='"Noto Sans CJK JP","Noto Sans CJK SC","Liberation Sans",sans-serif' font-weight="500" font-size="27.6" text-anchor="middle" fill="#111" stroke="#111" stroke-width="0.55">2</text>
<text x="523.3" y="246.2" font-family='"Noto Sans CJK JP","Noto Sans CJK SC","Liberation Sans",sans-serif' font-weight="500" font-size="27.6" text-anchor="middle" fill="#111" stroke="#111" stroke-width="0.55">2</text>
<text x="146.5" y="281.6" font-family='"Noto Sans CJK JP","Noto Sans CJK SC","Liberation Sans",sans-serif' font-weight="500" font-size="27.6" text-anchor="middle" fill="#111" stroke="#111" stroke-width="0.55">1</text>
<text x="188.5" y="281.6" font-family='"Noto Sans CJK JP","Noto Sans CJK SC","Liberation Sans",sans-serif' font-weight="500" font-size="27.6" text-anchor="middle" fill="#111" stroke="#111" stroke-width="0.55">1</text>
<text x="230.8" y="281.6" font-family='"Noto Sans CJK JP","Noto Sans CJK SC","Liberation Sans",sans-serif' font-weight="500" font-size="27.6" text-anchor="middle" fill="#111" stroke="#111" stroke-width="0.55">1</text>
<text x="273.0" y="281.6" font-family='"Noto Sans CJK JP","Noto Sans CJK SC","Liberation Sans",sans-serif' font-weight="500" font-size="27.6" text-anchor="middle" fill="#111" stroke="#111" stroke-width="0.55">1</text>
<text x="314.8" y="281.6" font-family='"Noto Sans CJK JP","Noto Sans CJK SC","Liberation Sans",sans-serif' font-weight="500" font-size="27.6" text-anchor="middle" fill="#111" stroke="#111" stroke-width="0.55">1</text>
<text x="356.6" y="281.6" font-family='"Noto Sans CJK JP","Noto Sans CJK SC","Liberation Sans",sans-serif' font-weight="500" font-size="27.6" text-anchor="middle" fill="#111" stroke="#111" stroke-width="0.55">2</text>
<text x="398.5" y="281.6" font-family='"Noto Sans CJK JP","Noto Sans CJK SC","Liberation Sans",sans-serif' font-weight="500" font-size="27.6" text-anchor="middle" fill="#111" stroke="#111" stroke-width="0.55">2</text>
<text x="440.1" y="281.6" font-family='"Noto Sans CJK JP","Noto Sans CJK SC","Liberation Sans",sans-serif' font-weight="500" font-size="27.6" text-anchor="middle" fill="#111" stroke="#111" stroke-width="0.55">2</text>
<text x="481.7" y="281.6" font-family='"Noto Sans CJK JP","Noto Sans CJK SC","Liberation Sans",sans-serif' font-weight="500" font-size="27.6" text-anchor="middle" fill="#111" stroke="#111" stroke-width="0.55">2</text>
<text x="523.3" y="281.6" font-family='"Noto Sans CJK JP","Noto Sans CJK SC","Liberation Sans",sans-serif' font-weight="500" font-size="27.6" text-anchor="middle" fill="#0c200c" stroke="#0c200c" stroke-width="0.55">3</text>
<text x="146.5" y="317.0" font-family='"Noto Sans CJK JP","Noto Sans CJK SC","Liberation Sans",sans-serif' font-weight="500" font-size="27.6" text-anchor="middle" fill="#111" stroke="#111" stroke-width="0.55">1</text>
<text x="188.5" y="317.0" font-family='"Noto Sans CJK JP","Noto Sans CJK SC","Liberation Sans",sans-serif' font-weight="500" font-size="27.6" text-anchor="middle" fill="#111" stroke="#111" stroke-width="0.55">1</text>
<text x="230.8" y="317.0" font-family='"Noto Sans CJK JP","Noto Sans CJK SC","Liberation Sans",sans-serif' font-weight="500" font-size="27.6" text-anchor="middle" fill="#111" stroke="#111" stroke-width="0.55">1</text>
<text x="273.0" y="317.0" font-family='"Noto Sans CJK JP","Noto Sans CJK SC","Liberation Sans",sans-serif' font-weight="500" font-size="27.6" text-anchor="middle" fill="#111" stroke="#111" stroke-width="0.55">2</text>
<text x="314.8" y="317.0" font-family='"Noto Sans CJK JP","Noto Sans CJK SC","Liberation Sans",sans-serif' font-weight="500" font-size="27.6" text-anchor="middle" fill="#111" stroke="#111" stroke-width="0.55">2</text>
<text x="356.6" y="317.0" font-family='"Noto Sans CJK JP","Noto Sans CJK SC","Liberation Sans",sans-serif' font-weight="500" font-size="27.6" text-anchor="middle" fill="#111" stroke="#111" stroke-width="0.55">2</text>
<text x="398.5" y="317.0" font-family='"Noto Sans CJK JP","Noto Sans CJK SC","Liberation Sans",sans-serif' font-weight="500" font-size="27.6" text-anchor="middle" fill="#111" stroke="#111" stroke-width="0.55">2</text>
<text x="440.1" y="317.0" font-family='"Noto Sans CJK JP","Noto Sans CJK SC","Liberation Sans",sans-serif' font-weight="500" font-size="27.6" text-anchor="middle" fill="#0c200c" stroke="#0c200c" stroke-width="0.55">3</text>
<text x="481.7" y="317.0" font-family='"Noto Sans CJK JP","Noto Sans CJK SC","Liberation Sans",sans-serif' font-weight="500" font-size="27.6" text-anchor="middle" fill="#0c200c" stroke="#0c200c" stroke-width="0.55">3</text>
<text x="523.3" y="317.0" font-family='"Noto Sans CJK JP","Noto Sans CJK SC","Liberation Sans",sans-serif' font-weight="500" font-size="27.6" text-anchor="middle" fill="#0c200c" stroke="#0c200c" stroke-width="0.55">3</text>
<text x="146.5" y="352.4" font-family='"Noto Sans CJK JP","Noto Sans CJK SC","Liberation Sans",sans-serif' font-weight="500" font-size="27.6" text-anchor="middle" fill="#111" stroke="#111" stroke-width="0.55">1</text>
<text x="188.5" y="352.4" font-family='"Noto Sans CJK JP","Noto Sans CJK SC","Liberation Sans",sans-serif' font-weight="500" font-size="27.6" text-anchor="middle" fill="#111" stroke="#111" stroke-width="0.55">1</text>
<text x="230.8" y="352.4" font-family='"Noto Sans CJK JP","Noto Sans CJK SC","Liberation Sans",sans-serif' font-weight="500" font-size="27.6" text-anchor="middle" fill="#111" stroke="#111" stroke-width="0.55">1</text>
<text x="273.0" y="352.4" font-family='"Noto Sans CJK JP","Noto Sans CJK SC","Liberation Sans",sans-serif' font-weight="500" font-size="27.6" text-anchor="middle" fill="#111" stroke="#111" stroke-width="0.55">2</text>
<text x="314.8" y="352.4" font-family='"Noto Sans CJK JP","Noto Sans CJK SC","Liberation Sans",sans-serif' font-weight="500" font-size="27.6" text-anchor="middle" fill="#111" stroke="#111" stroke-width="0.55">2</text>
<text x="356.6" y="352.4" font-family='"Noto Sans CJK JP","Noto Sans CJK SC","Liberation Sans",sans-serif' font-weight="500" font-size="27.6" text-anchor="middle" fill="#0c200c" stroke="#0c200c" stroke-width="0.55">3</text>
<text x="398.5" y="352.4" font-family='"Noto Sans CJK JP","Noto Sans CJK SC","Liberation Sans",sans-serif' font-weight="500" font-size="27.6" text-anchor="middle" fill="#0c200c" stroke="#0c200c" stroke-width="0.55">3</text>
<text x="440.1" y="352.4" font-family='"Noto Sans CJK JP","Noto Sans CJK SC","Liberation Sans",sans-serif' font-weight="500" font-size="27.6" text-anchor="middle" fill="#0c200c" stroke="#0c200c" stroke-width="0.55">3</text>
<text x="481.7" y="352.4" font-family='"Noto Sans CJK JP","Noto Sans CJK SC","Liberation Sans",sans-serif' font-weight="500" font-size="27.6" text-anchor="middle" fill="#0c200c" stroke="#0c200c" stroke-width="0.55">3</text>
<text x="523.3" y="352.4" font-family='"Noto Sans CJK JP","Noto Sans CJK SC","Liberation Sans",sans-serif' font-weight="500" font-size="27.6" text-anchor="middle" fill="#111" stroke="#111" stroke-width="0.55">4</text>
<text x="146.5" y="387.8" font-family='"Noto Sans CJK JP","Noto Sans CJK SC","Liberation Sans",sans-serif' font-weight="500" font-size="27.6" text-anchor="middle" fill="#111" stroke="#111" stroke-width="0.55">1</text>
<text x="188.5" y="387.8" font-family='"Noto Sans CJK JP","Noto Sans CJK SC","Liberation Sans",sans-serif' font-weight="500" font-size="27.6" text-anchor="middle" fill="#111" stroke="#111" stroke-width="0.55">2</text>
<text x="230.8" y="387.8" font-family='"Noto Sans CJK JP","Noto Sans CJK SC","Liberation Sans",sans-serif' font-weight="500" font-size="27.6" text-anchor="middle" fill="#111" stroke="#111" stroke-width="0.55">2</text>
<text x="273.0" y="387.8" font-family='"Noto Sans CJK JP","Noto Sans CJK SC","Liberation Sans",sans-serif' font-weight="500" font-size="27.6" text-anchor="middle" fill="#111" stroke="#111" stroke-width="0.55">2</text>
<text x="314.8" y="387.8" font-family='"Noto Sans CJK JP","Noto Sans CJK SC","Liberation Sans",sans-serif' font-weight="500" font-size="27.6" text-anchor="middle" fill="#0c200c" stroke="#0c200c" stroke-width="0.55">3</text>
<text x="356.6" y="387.8" font-family='"Noto Sans CJK JP","Noto Sans CJK SC","Liberation Sans",sans-serif' font-weight="500" font-size="27.6" text-anchor="middle" fill="#0c200c" stroke="#0c200c" stroke-width="0.55">3</text>
<text x="398.5" y="387.8" font-family='"Noto Sans CJK JP","Noto Sans CJK SC","Liberation Sans",sans-serif' font-weight="500" font-size="27.6" text-anchor="middle" fill="#0c200c" stroke="#0c200c" stroke-width="0.55">3</text>
<text x="440.1" y="387.8" font-family='"Noto Sans CJK JP","Noto Sans CJK SC","Liberation Sans",sans-serif' font-weight="500" font-size="27.6" text-anchor="middle" fill="#0c200c" stroke="#0c200c" stroke-width="0.55">3</text>
<text x="481.7" y="387.8" font-family='"Noto Sans CJK JP","Noto Sans CJK SC","Liberation Sans",sans-serif' font-weight="500" font-size="27.6" text-anchor="middle" fill="#111" stroke="#111" stroke-width="0.55">4</text>
<text x="523.3" y="387.8" font-family='"Noto Sans CJK JP","Noto Sans CJK SC","Liberation Sans",sans-serif' font-weight="500" font-size="27.6" text-anchor="middle" fill="#111" stroke="#111" stroke-width="0.55">4</text>
<text x="146.5" y="423.2" font-family='"Noto Sans CJK JP","Noto Sans CJK SC","Liberation Sans",sans-serif' font-weight="500" font-size="27.6" text-anchor="middle" fill="#111" stroke="#111" stroke-width="0.55">2</text>
<text x="188.5" y="423.2" font-family='"Noto Sans CJK JP","Noto Sans CJK SC","Liberation Sans",sans-serif' font-weight="500" font-size="27.6" text-anchor="middle" fill="#111" stroke="#111" stroke-width="0.55">2</text>
<text x="230.8" y="423.2" font-family='"Noto Sans CJK JP","Noto Sans CJK SC","Liberation Sans",sans-serif' font-weight="500" font-size="27.6" text-anchor="middle" fill="#111" stroke="#111" stroke-width="0.55">2</text>
<text x="273.0" y="423.2" font-family='"Noto Sans CJK JP","Noto Sans CJK SC","Liberation Sans",sans-serif' font-weight="500" font-size="27.6" text-anchor="middle" fill="#0c200c" stroke="#0c200c" stroke-width="0.55">3</text>
<text x="314.8" y="423.2" font-family='"Noto Sans CJK JP","Noto Sans CJK SC","Liberation Sans",sans-serif' font-weight="500" font-size="27.6" text-anchor="middle" fill="#0c200c" stroke="#0c200c" stroke-width="0.55">3</text>
<text x="356.6" y="423.2" font-family='"Noto Sans CJK JP","Noto Sans CJK SC","Liberation Sans",sans-serif' font-weight="500" font-size="27.6" text-anchor="middle" fill="#0c200c" stroke="#0c200c" stroke-width="0.55">3</text>
<text x="398.5" y="423.2" font-family='"Noto Sans CJK JP","Noto Sans CJK SC","Liberation Sans",sans-serif' font-weight="500" font-size="27.6" text-anchor="middle" fill="#111" stroke="#111" stroke-width="0.55">4</text>
<text x="440.1" y="423.2" font-family='"Noto Sans CJK JP","Noto Sans CJK SC","Liberation Sans",sans-serif' font-weight="500" font-size="27.6" text-anchor="middle" fill="#111" stroke="#111" stroke-width="0.55">4</text>
<text x="481.7" y="423.2" font-family='"Noto Sans CJK JP","Noto Sans CJK SC","Liberation Sans",sans-serif' font-weight="500" font-size="27.6" text-anchor="middle" fill="#111" stroke="#111" stroke-width="0.55">4</text>
<text x="523.3" y="423.2" font-family='"Noto Sans CJK JP","Noto Sans CJK SC","Liberation Sans",sans-serif' font-weight="500" font-size="27.6" text-anchor="middle" fill="#111" stroke="#111" stroke-width="0.55">4</text>
<text x="146.5" y="458.5" font-family='"Noto Sans CJK JP","Noto Sans CJK SC","Liberation Sans",sans-serif' font-weight="500" font-size="27.6" text-anchor="middle" fill="#111" stroke="#111" stroke-width="0.55">2</text>
<text x="188.5" y="458.5" font-family='"Noto Sans CJK JP","Noto Sans CJK SC","Liberation Sans",sans-serif' font-weight="500" font-size="27.6" text-anchor="middle" fill="#0c200c" stroke="#0c200c" stroke-width="0.55">3</text>
<text x="230.8" y="458.5" font-family='"Noto Sans CJK JP","Noto Sans CJK SC","Liberation Sans",sans-serif' font-weight="500" font-size="27.6" text-anchor="middle" fill="#0c200c" stroke="#0c200c" stroke-width="0.55">3</text>
<text x="273.0" y="458.5" font-family='"Noto Sans CJK JP","Noto Sans CJK SC","Liberation Sans",sans-serif' font-weight="500" font-size="27.6" text-anchor="middle" fill="#0c200c" stroke="#0c200c" stroke-width="0.55">3</text>
<text x="314.8" y="458.5" font-family='"Noto Sans CJK JP","Noto Sans CJK SC","Liberation Sans",sans-serif' font-weight="500" font-size="27.6" text-anchor="middle" fill="#0c200c" stroke="#0c200c" stroke-width="0.55">3</text>
<text x="356.6" y="458.5" font-family='"Noto Sans CJK JP","Noto Sans CJK SC","Liberation Sans",sans-serif' font-weight="500" font-size="27.6" text-anchor="middle" fill="#111" stroke="#111" stroke-width="0.55">4</text>
<text x="398.5" y="458.5" font-family='"Noto Sans CJK JP","Noto Sans CJK SC","Liberation Sans",sans-serif' font-weight="500" font-size="27.6" text-anchor="middle" fill="#111" stroke="#111" stroke-width="0.55">4</text>
<text x="440.1" y="458.5" font-family='"Noto Sans CJK JP","Noto Sans CJK SC","Liberation Sans",sans-serif' font-weight="500" font-size="27.6" text-anchor="middle" fill="#111" stroke="#111" stroke-width="0.55">4</text>
<text x="481.7" y="458.5" font-family='"Noto Sans CJK JP","Noto Sans CJK SC","Liberation Sans",sans-serif' font-weight="500" font-size="27.6" text-anchor="middle" fill="#111" stroke="#111" stroke-width="0.55">5</text>
<text x="523.3" y="458.5" font-family='"Noto Sans CJK JP","Noto Sans CJK SC","Liberation Sans",sans-serif' font-weight="500" font-size="27.6" text-anchor="middle" fill="#111" stroke="#111" stroke-width="0.55">5</text>
<text x="146.5" y="493.9" font-family='"Noto Sans CJK JP","Noto Sans CJK SC","Liberation Sans",sans-serif' font-weight="500" font-size="27.6" text-anchor="middle" fill="#0c200c" stroke="#0c200c" stroke-width="0.55">3</text>
<text x="188.5" y="493.9" font-family='"Noto Sans CJK JP","Noto Sans CJK SC","Liberation Sans",sans-serif' font-weight="500" font-size="27.6" text-anchor="middle" fill="#0c200c" stroke="#0c200c" stroke-width="0.55">3</text>
<text x="230.8" y="493.9" font-family='"Noto Sans CJK JP","Noto Sans CJK SC","Liberation Sans",sans-serif' font-weight="500" font-size="27.6" text-anchor="middle" fill="#0c200c" stroke="#0c200c" stroke-width="0.55">3</text>
<text x="273.0" y="493.9" font-family='"Noto Sans CJK JP","Noto Sans CJK SC","Liberation Sans",sans-serif' font-weight="500" font-size="27.6" text-anchor="middle" fill="#111" stroke="#111" stroke-width="0.55">4</text>
<text x="314.8" y="493.9" font-family='"Noto Sans CJK JP","Noto Sans CJK SC","Liberation Sans",sans-serif' font-weight="500" font-size="27.6" text-anchor="middle" fill="#111" stroke="#111" stroke-width="0.55">4</text>
<text x="356.6" y="493.9" font-family='"Noto Sans CJK JP","Noto Sans CJK SC","Liberation Sans",sans-serif' font-weight="500" font-size="27.6" text-anchor="middle" fill="#111" stroke="#111" stroke-width="0.55">4</text>
<text x="398.5" y="493.9" font-family='"Noto Sans CJK JP","Noto Sans CJK SC","Liberation Sans",sans-serif' font-weight="500" font-size="27.6" text-anchor="middle" fill="#111" stroke="#111" stroke-width="0.55">5</text>
<text x="440.1" y="493.9" font-family='"Noto Sans CJK JP","Noto Sans CJK SC","Liberation Sans",sans-serif' font-weight="500" font-size="27.6" text-anchor="middle" fill="#111" stroke="#111" stroke-width="0.55">5</text>
<text x="481.7" y="493.9" font-family='"Noto Sans CJK JP","Noto Sans CJK SC","Liberation Sans",sans-serif' font-weight="500" font-size="27.6" text-anchor="middle" fill="#111" stroke="#111" stroke-width="0.55">5</text>
<text x="523.3" y="493.9" font-family='"Noto Sans CJK JP","Noto Sans CJK SC","Liberation Sans",sans-serif' font-weight="500" font-size="27.6" text-anchor="middle" fill="#3d0a0c" stroke="#3d0a0c" stroke-width="0.55">6</text>
<text x="146.5" y="529.3" font-family='"Noto Sans CJK JP","Noto Sans CJK SC","Liberation Sans",sans-serif' font-weight="500" font-size="27.6" text-anchor="middle" fill="#0c200c" stroke="#0c200c" stroke-width="0.55">3</text>
<text x="188.5" y="529.3" font-family='"Noto Sans CJK JP","Noto Sans CJK SC","Liberation Sans",sans-serif' font-weight="500" font-size="27.6" text-anchor="middle" fill="#0c200c" stroke="#0c200c" stroke-width="0.55">3</text>
<text x="230.8" y="529.3" font-family='"Noto Sans CJK JP","Noto Sans CJK SC","Liberation Sans",sans-serif' font-weight="500" font-size="27.6" text-anchor="middle" fill="#111" stroke="#111" stroke-width="0.55">4</text>
<text x="273.0" y="529.3" font-family='"Noto Sans CJK JP","Noto Sans CJK SC","Liberation Sans",sans-serif' font-weight="500" font-size="27.6" text-anchor="middle" fill="#111" stroke="#111" stroke-width="0.55">4</text>
<text x="314.8" y="529.3" font-family='"Noto Sans CJK JP","Noto Sans CJK SC","Liberation Sans",sans-serif' font-weight="500" font-size="27.6" text-anchor="middle" fill="#111" stroke="#111" stroke-width="0.55">4</text>
<text x="356.6" y="529.3" font-family='"Noto Sans CJK JP","Noto Sans CJK SC","Liberation Sans",sans-serif' font-weight="500" font-size="27.6" text-anchor="middle" fill="#111" stroke="#111" stroke-width="0.55">5</text>
<text x="398.5" y="529.3" font-family='"Noto Sans CJK JP","Noto Sans CJK SC","Liberation Sans",sans-serif' font-weight="500" font-size="27.6" text-anchor="middle" fill="#111" stroke="#111" stroke-width="0.55">5</text>
<text x="440.1" y="529.3" font-family='"Noto Sans CJK JP","Noto Sans CJK SC","Liberation Sans",sans-serif' font-weight="500" font-size="27.6" text-anchor="middle" fill="#3d0a0c" stroke="#3d0a0c" stroke-width="0.55">6</text>
<text x="481.7" y="529.3" font-family='"Noto Sans CJK JP","Noto Sans CJK SC","Liberation Sans",sans-serif' font-weight="500" font-size="27.6" text-anchor="middle" fill="#3d0a0c" stroke="#3d0a0c" stroke-width="0.55">6</text>
<text x="523.3" y="529.3" font-family='"Noto Sans CJK JP","Noto Sans CJK SC","Liberation Sans",sans-serif' font-weight="500" font-size="27.6" text-anchor="middle" fill="#3d0a0c" stroke="#3d0a0c" stroke-width="0.55">6</text>
<text x="146.5" y="564.7" font-family='"Noto Sans CJK JP","Noto Sans CJK SC","Liberation Sans",sans-serif' font-weight="500" font-size="27.6" text-anchor="middle" fill="#111" stroke="#111" stroke-width="0.55">4</text>
<text x="188.5" y="564.7" font-family='"Noto Sans CJK JP","Noto Sans CJK SC","Liberation Sans",sans-serif' font-weight="500" font-size="27.6" text-anchor="middle" fill="#111" stroke="#111" stroke-width="0.55">4</text>
<text x="230.8" y="564.7" font-family='"Noto Sans CJK JP","Noto Sans CJK SC","Liberation Sans",sans-serif' font-weight="500" font-size="27.6" text-anchor="middle" fill="#111" stroke="#111" stroke-width="0.55">4</text>
<text x="273.0" y="564.7" font-family='"Noto Sans CJK JP","Noto Sans CJK SC","Liberation Sans",sans-serif' font-weight="500" font-size="27.6" text-anchor="middle" fill="#111" stroke="#111" stroke-width="0.55">4</text>
<text x="314.8" y="564.7" font-family='"Noto Sans CJK JP","Noto Sans CJK SC","Liberation Sans",sans-serif' font-weight="500" font-size="27.6" text-anchor="middle" fill="#111" stroke="#111" stroke-width="0.55">5</text>
<text x="356.6" y="564.7" font-family='"Noto Sans CJK JP","Noto Sans CJK SC","Liberation Sans",sans-serif' font-weight="500" font-size="27.6" text-anchor="middle" fill="#111" stroke="#111" stroke-width="0.55">5</text>
<text x="398.5" y="564.7" font-family='"Noto Sans CJK JP","Noto Sans CJK SC","Liberation Sans",sans-serif' font-weight="500" font-size="27.6" text-anchor="middle" fill="#3d0a0c" stroke="#3d0a0c" stroke-width="0.55">6</text>
<text x="440.1" y="564.7" font-family='"Noto Sans CJK JP","Noto Sans CJK SC","Liberation Sans",sans-serif' font-weight="500" font-size="27.6" text-anchor="middle" fill="#3d0a0c" stroke="#3d0a0c" stroke-width="0.55">6</text>
<text x="481.7" y="564.7" font-family='"Noto Sans CJK JP","Noto Sans CJK SC","Liberation Sans",sans-serif' font-weight="500" font-size="27.6" text-anchor="middle" fill="#3d0a0c" stroke="#3d0a0c" stroke-width="0.55">6</text>
<text x="523.3" y="564.7" font-family='"Noto Sans CJK JP","Noto Sans CJK SC","Liberation Sans",sans-serif' font-weight="500" font-size="27.6" text-anchor="middle" fill="#3d0a0c" stroke="#3d0a0c" stroke-width="0.55">6</text>
<text x="146.5" y="600.1" font-family='"Noto Sans CJK JP","Noto Sans CJK SC","Liberation Sans",sans-serif' font-weight="500" font-size="27.6" text-anchor="middle" fill="#111" stroke="#111" stroke-width="0.55">4</text>
<text x="188.5" y="600.1" font-family='"Noto Sans CJK JP","Noto Sans CJK SC","Liberation Sans",sans-serif' font-weight="500" font-size="27.6" text-anchor="middle" fill="#111" stroke="#111" stroke-width="0.55">4</text>
<text x="230.8" y="600.1" font-family='"Noto Sans CJK JP","Noto Sans CJK SC","Liberation Sans",sans-serif' font-weight="500" font-size="27.6" text-anchor="middle" fill="#111" stroke="#111" stroke-width="0.55">5</text>
<text x="273.0" y="600.1" font-family='"Noto Sans CJK JP","Noto Sans CJK SC","Liberation Sans",sans-serif' font-weight="500" font-size="27.6" text-anchor="middle" fill="#111" stroke="#111" stroke-width="0.55">5</text>
<text x="314.8" y="600.1" font-family='"Noto Sans CJK JP","Noto Sans CJK SC","Liberation Sans",sans-serif' font-weight="500" font-size="27.6" text-anchor="middle" fill="#111" stroke="#111" stroke-width="0.55">5</text>
<text x="356.6" y="600.1" font-family='"Noto Sans CJK JP","Noto Sans CJK SC","Liberation Sans",sans-serif' font-weight="500" font-size="27.6" text-anchor="middle" fill="#3d0a0c" stroke="#3d0a0c" stroke-width="0.55">6</text>
<text x="398.5" y="600.1" font-family='"Noto Sans CJK JP","Noto Sans CJK SC","Liberation Sans",sans-serif' font-weight="500" font-size="27.6" text-anchor="middle" fill="#3d0a0c" stroke="#3d0a0c" stroke-width="0.55">6</text>
<text x="440.1" y="600.1" font-family='"Noto Sans CJK JP","Noto Sans CJK SC","Liberation Sans",sans-serif' font-weight="500" font-size="27.6" text-anchor="middle" fill="#3d0a0c" stroke="#3d0a0c" stroke-width="0.55">6</text>
<text x="481.7" y="600.1" font-family='"Noto Sans CJK JP","Noto Sans CJK SC","Liberation Sans",sans-serif' font-weight="500" font-size="27.6" text-anchor="middle" fill="#111" stroke="#111" stroke-width="0.55">7</text>
<text x="523.3" y="600.1" font-family='"Noto Sans CJK JP","Noto Sans CJK SC","Liberation Sans",sans-serif' font-weight="500" font-size="27.6" text-anchor="middle" fill="#111" stroke="#111" stroke-width="0.55">7</text>
<text x="146.5" y="635.5" font-family='"Noto Sans CJK JP","Noto Sans CJK SC","Liberation Sans",sans-serif' font-weight="500" font-size="27.6" text-anchor="middle" fill="#111" stroke="#111" stroke-width="0.55">5</text>
<text x="188.5" y="635.5" font-family='"Noto Sans CJK JP","Noto Sans CJK SC","Liberation Sans",sans-serif' font-weight="500" font-size="27.6" text-anchor="middle" fill="#111" stroke="#111" stroke-width="0.55">5</text>
<text x="230.8" y="635.5" font-family='"Noto Sans CJK JP","Noto Sans CJK SC","Liberation Sans",sans-serif' font-weight="500" font-size="27.6" text-anchor="middle" fill="#111" stroke="#111" stroke-width="0.55">5</text>
<text x="273.0" y="635.5" font-family='"Noto Sans CJK JP","Noto Sans CJK SC","Liberation Sans",sans-serif' font-weight="500" font-size="27.6" text-anchor="middle" fill="#3d0a0c" stroke="#3d0a0c" stroke-width="0.55">6</text>
<text x="314.8" y="635.5" font-family='"Noto Sans CJK JP","Noto Sans CJK SC","Liberation Sans",sans-serif' font-weight="500" font-size="27.6" text-anchor="middle" fill="#3d0a0c" stroke="#3d0a0c" stroke-width="0.55">6</text>
<text x="356.6" y="635.5" font-family='"Noto Sans CJK JP","Noto Sans CJK SC","Liberation Sans",sans-serif' font-weight="500" font-size="27.6" text-anchor="middle" fill="#3d0a0c" stroke="#3d0a0c" stroke-width="0.55">6</text>
<text x="398.5" y="635.5" font-family='"Noto Sans CJK JP","Noto Sans CJK SC","Liberation Sans",sans-serif' font-weight="500" font-size="27.6" text-anchor="middle" fill="#3d0a0c" stroke="#3d0a0c" stroke-width="0.55">6</text>
<text x="440.1" y="635.5" font-family='"Noto Sans CJK JP","Noto Sans CJK SC","Liberation Sans",sans-serif' font-weight="500" font-size="27.6" text-anchor="middle" fill="#111" stroke="#111" stroke-width="0.55">7</text>
<text x="481.7" y="635.5" font-family='"Noto Sans CJK JP","Noto Sans CJK SC","Liberation Sans",sans-serif' font-weight="500" font-size="27.6" text-anchor="middle" fill="#111" stroke="#111" stroke-width="0.55">7</text>
<text x="523.3" y="635.5" font-family='"Noto Sans CJK JP","Noto Sans CJK SC","Liberation Sans",sans-serif' font-weight="500" font-size="27.6" text-anchor="middle" fill="#111" stroke="#111" stroke-width="0.55">8</text>
<text x="146.5" y="670.9" font-family='"Noto Sans CJK JP","Noto Sans CJK SC","Liberation Sans",sans-serif' font-weight="500" font-size="27.6" text-anchor="middle" fill="#111" stroke="#111" stroke-width="0.55">5</text>
<text x="188.5" y="670.9" font-family='"Noto Sans CJK JP","Noto Sans CJK SC","Liberation Sans",sans-serif' font-weight="500" font-size="27.6" text-anchor="middle" fill="#111" stroke="#111" stroke-width="0.55">5</text>
<text x="230.8" y="670.9" font-family='"Noto Sans CJK JP","Noto Sans CJK SC","Liberation Sans",sans-serif' font-weight="500" font-size="27.6" text-anchor="middle" fill="#3d0a0c" stroke="#3d0a0c" stroke-width="0.55">6</text>
<text x="273.0" y="670.9" font-family='"Noto Sans CJK JP","Noto Sans CJK SC","Liberation Sans",sans-serif' font-weight="500" font-size="27.6" text-anchor="middle" fill="#3d0a0c" stroke="#3d0a0c" stroke-width="0.55">6</text>
<text x="314.8" y="670.9" font-family='"Noto Sans CJK JP","Noto Sans CJK SC","Liberation Sans",sans-serif' font-weight="500" font-size="27.6" text-anchor="middle" fill="#3d0a0c" stroke="#3d0a0c" stroke-width="0.55">6</text>
<text x="356.6" y="670.9" font-family='"Noto Sans CJK JP","Noto Sans CJK SC","Liberation Sans",sans-serif' font-weight="500" font-size="27.6" text-anchor="middle" fill="#3d0a0c" stroke="#3d0a0c" stroke-width="0.55">6</text>
<text x="398.5" y="670.9" font-family='"Noto Sans CJK JP","Noto Sans CJK SC","Liberation Sans",sans-serif' font-weight="500" font-size="27.6" text-anchor="middle" fill="#111" stroke="#111" stroke-width="0.55">7</text>
<text x="440.1" y="670.9" font-family='"Noto Sans CJK JP","Noto Sans CJK SC","Liberation Sans",sans-serif' font-weight="500" font-size="27.6" text-anchor="middle" fill="#111" stroke="#111" stroke-width="0.55">7</text>
<text x="481.7" y="670.9" font-family='"Noto Sans CJK JP","Noto Sans CJK SC","Liberation Sans",sans-serif' font-weight="500" font-size="27.6" text-anchor="middle" fill="#111" stroke="#111" stroke-width="0.55">8</text>
<text x="523.3" y="670.9" font-family='"Noto Sans CJK JP","Noto Sans CJK SC","Liberation Sans",sans-serif' font-weight="500" font-size="27.6" text-anchor="middle" fill="#111" stroke="#111" stroke-width="0.55">8</text>
<text x="607.4" y="210.8" font-family='"Noto Sans CJK JP","Noto Sans CJK SC","Liberation Sans",sans-serif' font-weight="500" font-size="27.6" text-anchor="middle" fill="#111" stroke="#111" stroke-width="0.55">1</text>
<text x="648.5" y="210.8" font-family='"Noto Sans CJK JP","Noto Sans CJK SC","Liberation Sans",sans-serif' font-weight="500" font-size="27.6" text-anchor="middle" fill="#111" stroke="#111" stroke-width="0.55">1</text>
<text x="690.4" y="210.8" font-family='"Noto Sans CJK JP","Noto Sans CJK SC","Liberation Sans",sans-serif' font-weight="500" font-size="27.6" text-anchor="middle" fill="#111" stroke="#111" stroke-width="0.55">1</text>
<text x="732.1" y="210.8" font-family='"Noto Sans CJK JP","Noto Sans CJK SC","Liberation Sans",sans-serif' font-weight="500" font-size="27.6" text-anchor="middle" fill="#111" stroke="#111" stroke-width="0.55">1</text>
<text x="773.8" y="210.8" font-family='"Noto Sans CJK JP","Noto Sans CJK SC","Liberation Sans",sans-serif' font-weight="500" font-size="27.6" text-anchor="middle" fill="#111" stroke="#111" stroke-width="0.55">1</text>
<text x="815.4" y="210.8" font-family='"Noto Sans CJK JP","Noto Sans CJK SC","Liberation Sans",sans-serif' font-weight="500" font-size="27.6" text-anchor="middle" fill="#111" stroke="#111" stroke-width="0.55">1</text>
<text x="857.1" y="210.8" font-family='"Noto Sans CJK JP","Noto Sans CJK SC","Liberation Sans",sans-serif' font-weight="500" font-size="27.6" text-anchor="middle" fill="#111" stroke="#111" stroke-width="0.55">1</text>
<text x="899.2" y="210.8" font-family='"Noto Sans CJK JP","Noto Sans CJK SC","Liberation Sans",sans-serif' font-weight="500" font-size="27.6" text-anchor="middle" fill="#111" stroke="#111" stroke-width="0.55">1</text>
<text x="941.4" y="210.8" font-family='"Noto Sans CJK JP","Noto Sans CJK SC","Liberation Sans",sans-serif' font-weight="500" font-size="27.6" text-anchor="middle" fill="#111" stroke="#111" stroke-width="0.55">2</text>
<text x="983.2" y="210.8" font-family='"Noto Sans CJK JP","Noto Sans CJK SC","Liberation Sans",sans-serif' font-weight="500" font-size="27.6" text-anchor="middle" fill="#111" stroke="#111" stroke-width="0.55">2</text>
<text x="607.4" y="246.2" font-family='"Noto Sans CJK JP","Noto Sans CJK SC","Liberation Sans",sans-serif' font-weight="500" font-size="27.6" text-anchor="middle" fill="#111" stroke="#111" stroke-width="0.55">1</text>
<text x="648.5" y="246.2" font-family='"Noto Sans CJK JP","Noto Sans CJK SC","Liberation Sans",sans-serif' font-weight="500" font-size="27.6" text-anchor="middle" fill="#111" stroke="#111" stroke-width="0.55">1</text>
<text x="690.4" y="246.2" font-family='"Noto Sans CJK JP","Noto Sans CJK SC","Liberation Sans",sans-serif' font-weight="500" font-size="27.6" text-anchor="middle" fill="#111" stroke="#111" stroke-width="0.55">1</text>
<text x="732.1" y="246.2" font-family='"Noto Sans CJK JP","Noto Sans CJK SC","Liberation Sans",sans-serif' font-weight="500" font-size="27.6" text-anchor="middle" fill="#111" stroke="#111" stroke-width="0.55">1</text>
<text x="773.8" y="246.2" font-family='"Noto Sans CJK JP","Noto Sans CJK SC","Liberation Sans",sans-serif' font-weight="500" font-size="27.6" text-anchor="middle" fill="#111" stroke="#111" stroke-width="0.55">1</text>
<text x="815.4" y="246.2" font-family='"Noto Sans CJK JP","Noto Sans CJK SC","Liberation Sans",sans-serif' font-weight="500" font-size="27.6" text-anchor="middle" fill="#111" stroke="#111" stroke-width="0.55">1</text>
<text x="857.1" y="246.2" font-family='"Noto Sans CJK JP","Noto Sans CJK SC","Liberation Sans",sans-serif' font-weight="500" font-size="27.6" text-anchor="middle" fill="#111" stroke="#111" stroke-width="0.55">2</text>
<text x="899.2" y="246.2" font-family='"Noto Sans CJK JP","Noto Sans CJK SC","Liberation Sans",sans-serif' font-weight="500" font-size="27.6" text-anchor="middle" fill="#111" stroke="#111" stroke-width="0.55">2</text>
<text x="941.4" y="246.2" font-family='"Noto Sans CJK JP","Noto Sans CJK SC","Liberation Sans",sans-serif' font-weight="500" font-size="27.6" text-anchor="middle" fill="#111" stroke="#111" stroke-width="0.55">2</text>
<text x="983.2" y="246.2" font-family='"Noto Sans CJK JP","Noto Sans CJK SC","Liberation Sans",sans-serif' font-weight="500" font-size="27.6" text-anchor="middle" fill="#111" stroke="#111" stroke-width="0.55">2</text>
<text x="607.4" y="281.6" font-family='"Noto Sans CJK JP","Noto Sans CJK SC","Liberation Sans",sans-serif' font-weight="500" font-size="27.6" text-anchor="middle" fill="#111" stroke="#111" stroke-width="0.55">1</text>
<text x="648.5" y="281.6" font-family='"Noto Sans CJK JP","Noto Sans CJK SC","Liberation Sans",sans-serif' font-weight="500" font-size="27.6" text-anchor="middle" fill="#111" stroke="#111" stroke-width="0.55">1</text>
<text x="690.4" y="281.6" font-family='"Noto Sans CJK JP","Noto Sans CJK SC","Liberation Sans",sans-serif' font-weight="500" font-size="27.6" text-anchor="middle" fill="#111" stroke="#111" stroke-width="0.55">1</text>
<text x="732.1" y="281.6" font-family='"Noto Sans CJK JP","Noto Sans CJK SC","Liberation Sans",sans-serif' font-weight="500" font-size="27.6" text-anchor="middle" fill="#111" stroke="#111" stroke-width="0.55">1</text>
<text x="773.8" y="281.6" font-family='"Noto Sans CJK JP","Noto Sans CJK SC","Liberation Sans",sans-serif' font-weight="500" font-size="27.6" text-anchor="middle" fill="#111" stroke="#111" stroke-width="0.55">1</text>
<text x="815.4" y="281.6" font-family='"Noto Sans CJK JP","Noto Sans CJK SC","Liberation Sans",sans-serif' font-weight="500" font-size="27.6" text-anchor="middle" fill="#111" stroke="#111" stroke-width="0.55">2</text>
<text x="857.1" y="281.6" font-family='"Noto Sans CJK JP","Noto Sans CJK SC","Liberation Sans",sans-serif' font-weight="500" font-size="27.6" text-anchor="middle" fill="#111" stroke="#111" stroke-width="0.55">2</text>
<text x="899.2" y="281.6" font-family='"Noto Sans CJK JP","Noto Sans CJK SC","Liberation Sans",sans-serif' font-weight="500" font-size="27.6" text-anchor="middle" fill="#111" stroke="#111" stroke-width="0.55">2</text>
<text x="941.4" y="281.6" font-family='"Noto Sans CJK JP","Noto Sans CJK SC","Liberation Sans",sans-serif' font-weight="500" font-size="27.6" text-anchor="middle" fill="#0c200c" stroke="#0c200c" stroke-width="0.55">3</text>
<text x="983.2" y="281.6" font-family='"Noto Sans CJK JP","Noto Sans CJK SC","Liberation Sans",sans-serif' font-weight="500" font-size="27.6" text-anchor="middle" fill="#0c200c" stroke="#0c200c" stroke-width="0.55">3</text>
<text x="607.4" y="317.0" font-family='"Noto Sans CJK JP","Noto Sans CJK SC","Liberation Sans",sans-serif' font-weight="500" font-size="27.6" text-anchor="middle" fill="#111" stroke="#111" stroke-width="0.55">1</text>
<text x="648.5" y="317.0" font-family='"Noto Sans CJK JP","Noto Sans CJK SC","Liberation Sans",sans-serif' font-weight="500" font-size="27.6" text-anchor="middle" fill="#111" stroke="#111" stroke-width="0.55">1</text>
<text x="690.4" y="317.0" font-family='"Noto Sans CJK JP","Noto Sans CJK SC","Liberation Sans",sans-serif' font-weight="500" font-size="27.6" text-anchor="middle" fill="#111" stroke="#111" stroke-width="0.55">1</text>
<text x="732.1" y="317.0" font-family='"Noto Sans CJK JP","Noto Sans CJK SC","Liberation Sans",sans-serif' font-weight="500" font-size="27.6" text-anchor="middle" fill="#111" stroke="#111" stroke-width="0.55">2</text>
<text x="773.8" y="317.0" font-family='"Noto Sans CJK JP","Noto Sans CJK SC","Liberation Sans",sans-serif' font-weight="500" font-size="27.6" text-anchor="middle" fill="#111" stroke="#111" stroke-width="0.55">2</text>
<text x="815.4" y="317.0" font-family='"Noto Sans CJK JP","Noto Sans CJK SC","Liberation Sans",sans-serif' font-weight="500" font-size="27.6" text-anchor="middle" fill="#111" stroke="#111" stroke-width="0.55">2</text>
<text x="857.1" y="317.0" font-family='"Noto Sans CJK JP","Noto Sans CJK SC","Liberation Sans",sans-serif' font-weight="500" font-size="27.6" text-anchor="middle" fill="#0c200c" stroke="#0c200c" stroke-width="0.55">3</text>
<text x="899.2" y="317.0" font-family='"Noto Sans CJK JP","Noto Sans CJK SC","Liberation Sans",sans-serif' font-weight="500" font-size="27.6" text-anchor="middle" fill="#0c200c" stroke="#0c200c" stroke-width="0.55">3</text>
<text x="941.4" y="317.0" font-family='"Noto Sans CJK JP","Noto Sans CJK SC","Liberation Sans",sans-serif' font-weight="500" font-size="27.6" text-anchor="middle" fill="#0c200c" stroke="#0c200c" stroke-width="0.55">3</text>
<text x="983.2" y="317.0" font-family='"Noto Sans CJK JP","Noto Sans CJK SC","Liberation Sans",sans-serif' font-weight="500" font-size="27.6" text-anchor="middle" fill="#0c200c" stroke="#0c200c" stroke-width="0.55">3</text>
<text x="607.4" y="352.4" font-family='"Noto Sans CJK JP","Noto Sans CJK SC","Liberation Sans",sans-serif' font-weight="500" font-size="27.6" text-anchor="middle" fill="#111" stroke="#111" stroke-width="0.55">1</text>
<text x="648.5" y="352.4" font-family='"Noto Sans CJK JP","Noto Sans CJK SC","Liberation Sans",sans-serif' font-weight="500" font-size="27.6" text-anchor="middle" fill="#111" stroke="#111" stroke-width="0.55">1</text>
<text x="690.4" y="352.4" font-family='"Noto Sans CJK JP","Noto Sans CJK SC","Liberation Sans",sans-serif' font-weight="500" font-size="27.6" text-anchor="middle" fill="#111" stroke="#111" stroke-width="0.55">2</text>
<text x="732.1" y="352.4" font-family='"Noto Sans CJK JP","Noto Sans CJK SC","Liberation Sans",sans-serif' font-weight="500" font-size="27.6" text-anchor="middle" fill="#111" stroke="#111" stroke-width="0.55">2</text>
<text x="773.8" y="352.4" font-family='"Noto Sans CJK JP","Noto Sans CJK SC","Liberation Sans",sans-serif' font-weight="500" font-size="27.6" text-anchor="middle" fill="#0c200c" stroke="#0c200c" stroke-width="0.55">3</text>
<text x="815.4" y="352.4" font-family='"Noto Sans CJK JP","Noto Sans CJK SC","Liberation Sans",sans-serif' font-weight="500" font-size="27.6" text-anchor="middle" fill="#0c200c" stroke="#0c200c" stroke-width="0.55">3</text>
<text x="857.1" y="352.4" font-family='"Noto Sans CJK JP","Noto Sans CJK SC","Liberation Sans",sans-serif' font-weight="500" font-size="27.6" text-anchor="middle" fill="#0c200c" stroke="#0c200c" stroke-width="0.55">3</text>
<text x="899.2" y="352.4" font-family='"Noto Sans CJK JP","Noto Sans CJK SC","Liberation Sans",sans-serif' font-weight="500" font-size="27.6" text-anchor="middle" fill="#0c200c" stroke="#0c200c" stroke-width="0.55">3</text>
<text x="941.4" y="352.4" font-family='"Noto Sans CJK JP","Noto Sans CJK SC","Liberation Sans",sans-serif' font-weight="500" font-size="27.6" text-anchor="middle" fill="#0c200c" stroke="#0c200c" stroke-width="0.55">3</text>
<text x="983.2" y="352.4" font-family='"Noto Sans CJK JP","Noto Sans CJK SC","Liberation Sans",sans-serif' font-weight="500" font-size="27.6" text-anchor="middle" fill="#111" stroke="#111" stroke-width="0.55">4</text>
<text x="607.4" y="387.8" font-family='"Noto Sans CJK JP","Noto Sans CJK SC","Liberation Sans",sans-serif' font-weight="500" font-size="27.6" text-anchor="middle" fill="#111" stroke="#111" stroke-width="0.55">1</text>
<text x="648.5" y="387.8" font-family='"Noto Sans CJK JP","Noto Sans CJK SC","Liberation Sans",sans-serif' font-weight="500" font-size="27.6" text-anchor="middle" fill="#111" stroke="#111" stroke-width="0.55">2</text>
<text x="690.4" y="387.8" font-family='"Noto Sans CJK JP","Noto Sans CJK SC","Liberation Sans",sans-serif' font-weight="500" font-size="27.6" text-anchor="middle" fill="#111" stroke="#111" stroke-width="0.55">2</text>
<text x="732.1" y="387.8" font-family='"Noto Sans CJK JP","Noto Sans CJK SC","Liberation Sans",sans-serif' font-weight="500" font-size="27.6" text-anchor="middle" fill="#0c200c" stroke="#0c200c" stroke-width="0.55">3</text>
<text x="773.8" y="387.8" font-family='"Noto Sans CJK JP","Noto Sans CJK SC","Liberation Sans",sans-serif' font-weight="500" font-size="27.6" text-anchor="middle" fill="#0c200c" stroke="#0c200c" stroke-width="0.55">3</text>
<text x="815.4" y="387.8" font-family='"Noto Sans CJK JP","Noto Sans CJK SC","Liberation Sans",sans-serif' font-weight="500" font-size="27.6" text-anchor="middle" fill="#0c200c" stroke="#0c200c" stroke-width="0.55">3</text>
<text x="857.1" y="387.8" font-family='"Noto Sans CJK JP","Noto Sans CJK SC","Liberation Sans",sans-serif' font-weight="500" font-size="27.6" text-anchor="middle" fill="#0c200c" stroke="#0c200c" stroke-width="0.55">3</text>
<text x="899.2" y="387.8" font-family='"Noto Sans CJK JP","Noto Sans CJK SC","Liberation Sans",sans-serif' font-weight="500" font-size="27.6" text-anchor="middle" fill="#0c200c" stroke="#0c200c" stroke-width="0.55">3</text>
<text x="941.4" y="387.8" font-family='"Noto Sans CJK JP","Noto Sans CJK SC","Liberation Sans",sans-serif' font-weight="500" font-size="27.6" text-anchor="middle" fill="#111" stroke="#111" stroke-width="0.55">4</text>
<text x="983.2" y="387.8" font-family='"Noto Sans CJK JP","Noto Sans CJK SC","Liberation Sans",sans-serif' font-weight="500" font-size="27.6" text-anchor="middle" fill="#111" stroke="#111" stroke-width="0.55">4</text>
<text x="607.4" y="423.2" font-family='"Noto Sans CJK JP","Noto Sans CJK SC","Liberation Sans",sans-serif' font-weight="500" font-size="27.6" text-anchor="middle" fill="#111" stroke="#111" stroke-width="0.55">2</text>
<text x="648.5" y="423.2" font-family='"Noto Sans CJK JP","Noto Sans CJK SC","Liberation Sans",sans-serif' font-weight="500" font-size="27.6" text-anchor="middle" fill="#111" stroke="#111" stroke-width="0.55">2</text>
<text x="690.4" y="423.2" font-family='"Noto Sans CJK JP","Noto Sans CJK SC","Liberation Sans",sans-serif' font-weight="500" font-size="27.6" text-anchor="middle" fill="#0c200c" stroke="#0c200c" stroke-width="0.55">3</text>
<text x="732.1" y="423.2" font-family='"Noto Sans CJK JP","Noto Sans CJK SC","Liberation Sans",sans-serif' font-weight="500" font-size="27.6" text-anchor="middle" fill="#0c200c" stroke="#0c200c" stroke-width="0.55">3</text>
<text x="773.8" y="423.2" font-family='"Noto Sans CJK JP","Noto Sans CJK SC","Liberation Sans",sans-serif' font-weight="500" font-size="27.6" text-anchor="middle" fill="#0c200c" stroke="#0c200c" stroke-width="0.55">3</text>
<text x="815.4" y="423.2" font-family='"Noto Sans CJK JP","Noto Sans CJK SC","Liberation Sans",sans-serif' font-weight="500" font-size="27.6" text-anchor="middle" fill="#111" stroke="#111" stroke-width="0.55">4</text>
<text x="857.1" y="423.2" font-family='"Noto Sans CJK JP","Noto Sans CJK SC","Liberation Sans",sans-serif' font-weight="500" font-size="27.6" text-anchor="middle" fill="#111" stroke="#111" stroke-width="0.55">4</text>
<text x="899.2" y="423.2" font-family='"Noto Sans CJK JP","Noto Sans CJK SC","Liberation Sans",sans-serif' font-weight="500" font-size="27.6" text-anchor="middle" fill="#111" stroke="#111" stroke-width="0.55">4</text>
<text x="941.4" y="423.2" font-family='"Noto Sans CJK JP","Noto Sans CJK SC","Liberation Sans",sans-serif' font-weight="500" font-size="27.6" text-anchor="middle" fill="#111" stroke="#111" stroke-width="0.55">4</text>
<text x="983.2" y="423.2" font-family='"Noto Sans CJK JP","Noto Sans CJK SC","Liberation Sans",sans-serif' font-weight="500" font-size="27.6" text-anchor="middle" fill="#111" stroke="#111" stroke-width="0.55">4</text>
<text x="607.4" y="458.5" font-family='"Noto Sans CJK JP","Noto Sans CJK SC","Liberation Sans",sans-serif' font-weight="500" font-size="27.6" text-anchor="middle" fill="#111" stroke="#111" stroke-width="0.55">2</text>
<text x="648.5" y="458.5" font-family='"Noto Sans CJK JP","Noto Sans CJK SC","Liberation Sans",sans-serif' font-weight="500" font-size="27.6" text-anchor="middle" fill="#0c200c" stroke="#0c200c" stroke-width="0.55">3</text>
<text x="690.4" y="458.5" font-family='"Noto Sans CJK JP","Noto Sans CJK SC","Liberation Sans",sans-serif' font-weight="500" font-size="27.6" text-anchor="middle" fill="#0c200c" stroke="#0c200c" stroke-width="0.55">3</text>
<text x="732.1" y="458.5" font-family='"Noto Sans CJK JP","Noto Sans CJK SC","Liberation Sans",sans-serif' font-weight="500" font-size="27.6" text-anchor="middle" fill="#0c200c" stroke="#0c200c" stroke-width="0.55">3</text>
<text x="773.8" y="458.5" font-family='"Noto Sans CJK JP","Noto Sans CJK SC","Liberation Sans",sans-serif' font-weight="500" font-size="27.6" text-anchor="middle" fill="#111" stroke="#111" stroke-width="0.55">4</text>
<text x="815.4" y="458.5" font-family='"Noto Sans CJK JP","Noto Sans CJK SC","Liberation Sans",sans-serif' font-weight="500" font-size="27.6" text-anchor="middle" fill="#111" stroke="#111" stroke-width="0.55">4</text>
<text x="857.1" y="458.5" font-family='"Noto Sans CJK JP","Noto Sans CJK SC","Liberation Sans",sans-serif' font-weight="500" font-size="27.6" text-anchor="middle" fill="#111" stroke="#111" stroke-width="0.55">4</text>
<text x="899.2" y="458.5" font-family='"Noto Sans CJK JP","Noto Sans CJK SC","Liberation Sans",sans-serif' font-weight="500" font-size="27.6" text-anchor="middle" fill="#111" stroke="#111" stroke-width="0.55">4</text>
<text x="941.4" y="458.5" font-family='"Noto Sans CJK JP","Noto Sans CJK SC","Liberation Sans",sans-serif' font-weight="500" font-size="27.6" text-anchor="middle" fill="#111" stroke="#111" stroke-width="0.55">5</text>
<text x="983.2" y="458.5" font-family='"Noto Sans CJK JP","Noto Sans CJK SC","Liberation Sans",sans-serif' font-weight="500" font-size="27.6" text-anchor="middle" fill="#111" stroke="#111" stroke-width="0.55">5</text>
<text x="607.4" y="493.9" font-family='"Noto Sans CJK JP","Noto Sans CJK SC","Liberation Sans",sans-serif' font-weight="500" font-size="27.6" text-anchor="middle" fill="#0c200c" stroke="#0c200c" stroke-width="0.55">3</text>
<text x="648.5" y="493.9" font-family='"Noto Sans CJK JP","Noto Sans CJK SC","Liberation Sans",sans-serif' font-weight="500" font-size="27.6" text-anchor="middle" fill="#0c200c" stroke="#0c200c" stroke-width="0.55">3</text>
<text x="690.4" y="493.9" font-family='"Noto Sans CJK JP","Noto Sans CJK SC","Liberation Sans",sans-serif' font-weight="500" font-size="27.6" text-anchor="middle" fill="#0c200c" stroke="#0c200c" stroke-width="0.55">3</text>
<text x="732.1" y="493.9" font-family='"Noto Sans CJK JP","Noto Sans CJK SC","Liberation Sans",sans-serif' font-weight="500" font-size="27.6" text-anchor="middle" fill="#111" stroke="#111" stroke-width="0.55">4</text>
<text x="773.8" y="493.9" font-family='"Noto Sans CJK JP","Noto Sans CJK SC","Liberation Sans",sans-serif' font-weight="500" font-size="27.6" text-anchor="middle" fill="#111" stroke="#111" stroke-width="0.55">4</text>
<text x="815.4" y="493.9" font-family='"Noto Sans CJK JP","Noto Sans CJK SC","Liberation Sans",sans-serif' font-weight="500" font-size="27.6" text-anchor="middle" fill="#111" stroke="#111" stroke-width="0.55">4</text>
<text x="857.1" y="493.9" font-family='"Noto Sans CJK JP","Noto Sans CJK SC","Liberation Sans",sans-serif' font-weight="500" font-size="27.6" text-anchor="middle" fill="#111" stroke="#111" stroke-width="0.55">5</text>
<text x="899.2" y="493.9" font-family='"Noto Sans CJK JP","Noto Sans CJK SC","Liberation Sans",sans-serif' font-weight="500" font-size="27.6" text-anchor="middle" fill="#111" stroke="#111" stroke-width="0.55">5</text>
<text x="941.4" y="493.9" font-family='"Noto Sans CJK JP","Noto Sans CJK SC","Liberation Sans",sans-serif' font-weight="500" font-size="27.6" text-anchor="middle" fill="#111" stroke="#111" stroke-width="0.55">5</text>
<text x="983.2" y="493.9" font-family='"Noto Sans CJK JP","Noto Sans CJK SC","Liberation Sans",sans-serif' font-weight="500" font-size="27.6" text-anchor="middle" fill="#3d0a0c" stroke="#3d0a0c" stroke-width="0.55">6</text>
<text x="607.4" y="529.3" font-family='"Noto Sans CJK JP","Noto Sans CJK SC","Liberation Sans",sans-serif' font-weight="500" font-size="27.6" text-anchor="middle" fill="#0c200c" stroke="#0c200c" stroke-width="0.55">3</text>
<text x="648.5" y="529.3" font-family='"Noto Sans CJK JP","Noto Sans CJK SC","Liberation Sans",sans-serif' font-weight="500" font-size="27.6" text-anchor="middle" fill="#111" stroke="#111" stroke-width="0.55">4</text>
<text x="690.4" y="529.3" font-family='"Noto Sans CJK JP","Noto Sans CJK SC","Liberation Sans",sans-serif' font-weight="500" font-size="27.6" text-anchor="middle" fill="#111" stroke="#111" stroke-width="0.55">4</text>
<text x="732.1" y="529.3" font-family='"Noto Sans CJK JP","Noto Sans CJK SC","Liberation Sans",sans-serif' font-weight="500" font-size="27.6" text-anchor="middle" fill="#111" stroke="#111" stroke-width="0.55">4</text>
<text x="773.8" y="529.3" font-family='"Noto Sans CJK JP","Noto Sans CJK SC","Liberation Sans",sans-serif' font-weight="500" font-size="27.6" text-anchor="middle" fill="#111" stroke="#111" stroke-width="0.55">4</text>
<text x="815.4" y="529.3" font-family='"Noto Sans CJK JP","Noto Sans CJK SC","Liberation Sans",sans-serif' font-weight="500" font-size="27.6" text-anchor="middle" fill="#111" stroke="#111" stroke-width="0.55">5</text>
<text x="857.1" y="529.3" font-family='"Noto Sans CJK JP","Noto Sans CJK SC","Liberation Sans",sans-serif' font-weight="500" font-size="27.6" text-anchor="middle" fill="#111" stroke="#111" stroke-width="0.55">5</text>
<text x="899.2" y="529.3" font-family='"Noto Sans CJK JP","Noto Sans CJK SC","Liberation Sans",sans-serif' font-weight="500" font-size="27.6" text-anchor="middle" fill="#111" stroke="#111" stroke-width="0.55">5</text>
<text x="941.4" y="529.3" font-family='"Noto Sans CJK JP","Noto Sans CJK SC","Liberation Sans",sans-serif' font-weight="500" font-size="27.6" text-anchor="middle" fill="#3d0a0c" stroke="#3d0a0c" stroke-width="0.55">6</text>
<text x="983.2" y="529.3" font-family='"Noto Sans CJK JP","Noto Sans CJK SC","Liberation Sans",sans-serif' font-weight="500" font-size="27.6" text-anchor="middle" fill="#3d0a0c" stroke="#3d0a0c" stroke-width="0.55">6</text>
<text x="607.4" y="564.7" font-family='"Noto Sans CJK JP","Noto Sans CJK SC","Liberation Sans",sans-serif' font-weight="500" font-size="27.6" text-anchor="middle" fill="#111" stroke="#111" stroke-width="0.55">4</text>
<text x="648.5" y="564.7" font-family='"Noto Sans CJK JP","Noto Sans CJK SC","Liberation Sans",sans-serif' font-weight="500" font-size="27.6" text-anchor="middle" fill="#111" stroke="#111" stroke-width="0.55">4</text>
<text x="690.4" y="564.7" font-family='"Noto Sans CJK JP","Noto Sans CJK SC","Liberation Sans",sans-serif' font-weight="500" font-size="27.6" text-anchor="middle" fill="#111" stroke="#111" stroke-width="0.55">4</text>
<text x="732.1" y="564.7" font-family='"Noto Sans CJK JP","Noto Sans CJK SC","Liberation Sans",sans-serif' font-weight="500" font-size="27.6" text-anchor="middle" fill="#111" stroke="#111" stroke-width="0.55">4</text>
<text x="773.8" y="564.7" font-family='"Noto Sans CJK JP","Noto Sans CJK SC","Liberation Sans",sans-serif' font-weight="500" font-size="27.6" text-anchor="middle" fill="#111" stroke="#111" stroke-width="0.55">5</text>
<text x="815.4" y="564.7" font-family='"Noto Sans CJK JP","Noto Sans CJK SC","Liberation Sans",sans-serif' font-weight="500" font-size="27.6" text-anchor="middle" fill="#111" stroke="#111" stroke-width="0.55">5</text>
<text x="857.1" y="564.7" font-family='"Noto Sans CJK JP","Noto Sans CJK SC","Liberation Sans",sans-serif' font-weight="500" font-size="27.6" text-anchor="middle" fill="#111" stroke="#111" stroke-width="0.55">5</text>
<text x="899.2" y="564.7" font-family='"Noto Sans CJK JP","Noto Sans CJK SC","Liberation Sans",sans-serif' font-weight="500" font-size="27.6" text-anchor="middle" fill="#3d0a0c" stroke="#3d0a0c" stroke-width="0.55">6</text>
<text x="941.4" y="564.7" font-family='"Noto Sans CJK JP","Noto Sans CJK SC","Liberation Sans",sans-serif' font-weight="500" font-size="27.6" text-anchor="middle" fill="#3d0a0c" stroke="#3d0a0c" stroke-width="0.55">6</text>
<text x="983.2" y="564.7" font-family='"Noto Sans CJK JP","Noto Sans CJK SC","Liberation Sans",sans-serif' font-weight="500" font-size="27.6" text-anchor="middle" fill="#3d0a0c" stroke="#3d0a0c" stroke-width="0.55">6</text>
<text x="607.4" y="600.1" font-family='"Noto Sans CJK JP","Noto Sans CJK SC","Liberation Sans",sans-serif' font-weight="500" font-size="27.6" text-anchor="middle" fill="#111" stroke="#111" stroke-width="0.55">4</text>
<text x="648.5" y="600.1" font-family='"Noto Sans CJK JP","Noto Sans CJK SC","Liberation Sans",sans-serif' font-weight="500" font-size="27.6" text-anchor="middle" fill="#111" stroke="#111" stroke-width="0.55">4</text>
<text x="690.4" y="600.1" font-family='"Noto Sans CJK JP","Noto Sans CJK SC","Liberation Sans",sans-serif' font-weight="500" font-size="27.6" text-anchor="middle" fill="#111" stroke="#111" stroke-width="0.55">5</text>
<text x="732.1" y="600.1" font-family='"Noto Sans CJK JP","Noto Sans CJK SC","Liberation Sans",sans-serif' font-weight="500" font-size="27.6" text-anchor="middle" fill="#111" stroke="#111" stroke-width="0.55">5</text>
<text x="773.8" y="600.1" font-family='"Noto Sans CJK JP","Noto Sans CJK SC","Liberation Sans",sans-serif' font-weight="500" font-size="27.6" text-anchor="middle" fill="#111" stroke="#111" stroke-width="0.55">5</text>
<text x="815.4" y="600.1" font-family='"Noto Sans CJK JP","Noto Sans CJK SC","Liberation Sans",sans-serif' font-weight="500" font-size="27.6" text-anchor="middle" fill="#3d0a0c" stroke="#3d0a0c" stroke-width="0.55">6</text>
<text x="857.1" y="600.1" font-family='"Noto Sans CJK JP","Noto Sans CJK SC","Liberation Sans",sans-serif' font-weight="500" font-size="27.6" text-anchor="middle" fill="#3d0a0c" stroke="#3d0a0c" stroke-width="0.55">6</text>
<text x="899.2" y="600.1" font-family='"Noto Sans CJK JP","Noto Sans CJK SC","Liberation Sans",sans-serif' font-weight="500" font-size="27.6" text-anchor="middle" fill="#3d0a0c" stroke="#3d0a0c" stroke-width="0.55">6</text>
<text x="607.4" y="635.5" font-family='"Noto Sans CJK JP","Noto Sans CJK SC","Liberation Sans",sans-serif' font-weight="500" font-size="27.6" text-anchor="middle" fill="#111" stroke="#111" stroke-width="0.55">4</text>
<text x="648.5" y="635.5" font-family='"Noto Sans CJK JP","Noto Sans CJK SC","Liberation Sans",sans-serif' font-weight="500" font-size="27.6" text-anchor="middle" fill="#111" stroke="#111" stroke-width="0.55">5</text>
<text x="690.4" y="635.5" font-family='"Noto Sans CJK JP","Noto Sans CJK SC","Liberation Sans",sans-serif' font-weight="500" font-size="27.6" text-anchor="middle" fill="#111" stroke="#111" stroke-width="0.55">5</text>
<text x="732.1" y="635.5" font-family='"Noto Sans CJK JP","Noto Sans CJK SC","Liberation Sans",sans-serif' font-weight="500" font-size="27.6" text-anchor="middle" fill="#111" stroke="#111" stroke-width="0.55">5</text>
<text x="773.8" y="635.5" font-family='"Noto Sans CJK JP","Noto Sans CJK SC","Liberation Sans",sans-serif' font-weight="500" font-size="27.6" text-anchor="middle" fill="#3d0a0c" stroke="#3d0a0c" stroke-width="0.55">6</text>
<text x="815.4" y="635.5" font-family='"Noto Sans CJK JP","Noto Sans CJK SC","Liberation Sans",sans-serif' font-weight="500" font-size="27.6" text-anchor="middle" fill="#3d0a0c" stroke="#3d0a0c" stroke-width="0.55">6</text>
<text x="857.1" y="635.5" font-family='"Noto Sans CJK JP","Noto Sans CJK SC","Liberation Sans",sans-serif' font-weight="500" font-size="27.6" text-anchor="middle" fill="#3d0a0c" stroke="#3d0a0c" stroke-width="0.55">6</text>
<text x="607.4" y="670.9" font-family='"Noto Sans CJK JP","Noto Sans CJK SC","Liberation Sans",sans-serif' font-weight="500" font-size="27.6" text-anchor="middle" fill="#111" stroke="#111" stroke-width="0.55">5</text>
<text x="648.5" y="670.9" font-family='"Noto Sans CJK JP","Noto Sans CJK SC","Liberation Sans",sans-serif' font-weight="500" font-size="27.6" text-anchor="middle" fill="#111" stroke="#111" stroke-width="0.55">5</text>
<text x="690.4" y="670.9" font-family='"Noto Sans CJK JP","Noto Sans CJK SC","Liberation Sans",sans-serif' font-weight="500" font-size="27.6" text-anchor="middle" fill="#111" stroke="#111" stroke-width="0.55">5</text>
<text x="732.1" y="670.9" font-family='"Noto Sans CJK JP","Noto Sans CJK SC","Liberation Sans",sans-serif' font-weight="500" font-size="27.6" text-anchor="middle" fill="#3d0a0c" stroke="#3d0a0c" stroke-width="0.55">6</text>
<text x="773.8" y="670.9" font-family='"Noto Sans CJK JP","Noto Sans CJK SC","Liberation Sans",sans-serif' font-weight="500" font-size="27.6" text-anchor="middle" fill="#3d0a0c" stroke="#3d0a0c" stroke-width="0.55">6</text>
<text x="815.4" y="670.9" font-family='"Noto Sans CJK JP","Noto Sans CJK SC","Liberation Sans",sans-serif' font-weight="500" font-size="27.6" text-anchor="middle" fill="#3d0a0c" stroke="#3d0a0c" stroke-width="0.55">6</text>
<text transform="translate(26.8 491.3) rotate(-90)" font-family='"Noto Sans CJK JP","Noto Sans CJK SC","Liberation Sans",sans-serif' font-size="25" textLength="177.5" lengthAdjust="spacingAndGlyphs" fill="#111" stroke="#111" stroke-width="0.4">bow weight(lbs)</text>
<rect x="0.3" y="701" width="47.0" height="42.7" fill="#f6fb12"/>
<rect x="0.3" y="701" width="262.4" height="42.7" fill="none" stroke="#0a0a0a" stroke-width="2.8"/>
<line x1="47.3" y1="701.0" x2="47.3" y2="743.7" stroke="#0a0a0a" stroke-width="2.8"/>
<text x="23.8" y="733.4" font-family='"Noto Sans CJK JP","Noto Sans CJK SC","Liberation Sans",sans-serif' font-weight="500" font-size="32" text-anchor="middle" fill="#111" stroke="#111" stroke-width="0.6">1</text>
<text x="96.0" y="731.3" font-family='"Noto Sans CJK JP","Noto Sans CJK SC","Liberation Sans",sans-serif' font-size="24.2" textLength="110" lengthAdjust="spacingAndGlyphs" fill="#111" stroke="#111" stroke-width="0.35">Spine 600</text>
<rect x="0.3" y="750.6" width="47.0" height="42.7" fill="#fbfcaa"/>
<rect x="0.3" y="750.6" width="262.4" height="42.7" fill="none" stroke="#0a0a0a" stroke-width="2.8"/>
<line x1="47.3" y1="750.6" x2="47.3" y2="793.3" stroke="#0a0a0a" stroke-width="2.8"/>
<text x="23.8" y="783.0" font-family='"Noto Sans CJK JP","Noto Sans CJK SC","Liberation Sans",sans-serif' font-weight="500" font-size="32" text-anchor="middle" fill="#111" stroke="#111" stroke-width="0.6">2</text>
<text x="96.0" y="778" font-family='"Noto Sans CJK JP","Noto Sans CJK SC","Liberation Sans",sans-serif' font-size="24.2" textLength="110" lengthAdjust="spacingAndGlyphs" fill="#111" stroke="#111" stroke-width="0.35">Spine 500</text>
<rect x="0.3" y="800.4" width="47.0" height="42.7" fill="#24ea22"/>
<rect x="0.3" y="800.4" width="262.4" height="42.7" fill="none" stroke="#0a0a0a" stroke-width="2.8"/>
<line x1="47.3" y1="800.4" x2="47.3" y2="843.1" stroke="#0a0a0a" stroke-width="2.8"/>
<text x="23.8" y="832.8" font-family='"Noto Sans CJK JP","Noto Sans CJK SC","Liberation Sans",sans-serif' font-weight="500" font-size="32" text-anchor="middle" fill="#0c200c" stroke="#0c200c" stroke-width="0.6">3</text>
<text x="96.0" y="825.6" font-family='"Noto Sans CJK JP","Noto Sans CJK SC","Liberation Sans",sans-serif' font-size="24.2" textLength="110" lengthAdjust="spacingAndGlyphs" fill="#111" stroke="#111" stroke-width="0.35">Spine 400</text>
<rect x="0.3" y="850" width="47.0" height="42.7" fill="#c9a4f2"/>
<rect x="0.3" y="850" width="262.4" height="42.7" fill="none" stroke="#0a0a0a" stroke-width="2.8"/>
<line x1="47.3" y1="850.0" x2="47.3" y2="892.7" stroke="#0a0a0a" stroke-width="2.8"/>
<text x="23.8" y="882.4" font-family='"Noto Sans CJK JP","Noto Sans CJK SC","Liberation Sans",sans-serif' font-weight="500" font-size="32" text-anchor="middle" fill="#111" stroke="#111" stroke-width="0.6">4</text>
<text x="96.0" y="875.2" font-family='"Noto Sans CJK JP","Noto Sans CJK SC","Liberation Sans",sans-serif' font-size="24.2" textLength="110" lengthAdjust="spacingAndGlyphs" fill="#111" stroke="#111" stroke-width="0.35">Spine 350</text>
<rect x="276.5" y="699.5" width="48.0" height="42.8" fill="#f6cc9c"/>
<rect x="276.5" y="699.5" width="264.0" height="42.8" fill="none" stroke="#0a0a0a" stroke-width="2.8"/>
<line x1="324.5" y1="699.5" x2="324.5" y2="742.3" stroke="#0a0a0a" stroke-width="2.8"/>
<text x="300.5" y="731.9" font-family='"Noto Sans CJK JP","Noto Sans CJK SC","Liberation Sans",sans-serif' font-weight="500" font-size="32" text-anchor="middle" fill="#111" stroke="#111" stroke-width="0.6">5</text>
<text x="367.3" y="725.6" font-family='"Noto Sans CJK JP","Noto Sans CJK SC","Liberation Sans",sans-serif' font-size="24.2" textLength="110" lengthAdjust="spacingAndGlyphs" fill="#111" stroke="#111" stroke-width="0.35">Spine 300</text>
<rect x="276.5" y="749.6" width="48.0" height="42.8" fill="#f21414"/>
<rect x="276.5" y="749.6" width="264.0" height="42.8" fill="none" stroke="#0a0a0a" stroke-width="2.8"/>
<line x1="324.5" y1="749.6" x2="324.5" y2="792.4" stroke="#0a0a0a" stroke-width="2.8"/>
<text x="300.5" y="782.0" font-family='"Noto Sans CJK JP","Noto Sans CJK SC","Liberation Sans",sans-serif' font-weight="500" font-size="32" text-anchor="middle" fill="#3d0a0c" stroke="#3d0a0c" stroke-width="0.6">6</text>
<text x="367.3" y="776" font-family='"Noto Sans CJK JP","Noto Sans CJK SC","Liberation Sans",sans-serif' font-size="24.2" textLength="110" lengthAdjust="spacingAndGlyphs" fill="#111" stroke="#111" stroke-width="0.35">Spine 250</text>
<rect x="276.5" y="799" width="48.0" height="42.8" fill="#a0cbf2"/>
<rect x="276.5" y="799" width="264.0" height="42.8" fill="none" stroke="#0a0a0a" stroke-width="2.8"/>
<line x1="324.5" y1="799.0" x2="324.5" y2="841.8" stroke="#0a0a0a" stroke-width="2.8"/>
<text x="300.5" y="831.4" font-family='"Noto Sans CJK JP","Noto Sans CJK SC","Liberation Sans",sans-serif' font-weight="500" font-size="32" text-anchor="middle" fill="#111" stroke="#111" stroke-width="0.6">7</text>
<text x="367.3" y="827" font-family='"Noto Sans CJK JP","Noto Sans CJK SC","Liberation Sans",sans-serif' font-size="24.2" textLength="110" lengthAdjust="spacingAndGlyphs" fill="#111" stroke="#111" stroke-width="0.35">Spine 200</text>
<rect x="276.5" y="848.6" width="48.0" height="42.8" fill="#fdd045"/>
<rect x="276.5" y="848.6" width="264.0" height="42.8" fill="none" stroke="#0a0a0a" stroke-width="2.8"/>
<line x1="324.5" y1="848.6" x2="324.5" y2="891.4" stroke="#0a0a0a" stroke-width="2.8"/>
<text x="300.5" y="881.0" font-family='"Noto Sans CJK JP","Noto Sans CJK SC","Liberation Sans",sans-serif' font-weight="500" font-size="32" text-anchor="middle" fill="#111" stroke="#111" stroke-width="0.6">8</text>
<text x="367.3" y="875" font-family='"Noto Sans CJK JP","Noto Sans CJK SC","Liberation Sans",sans-serif' font-size="24.2" textLength="110" lengthAdjust="spacingAndGlyphs" fill="#111" stroke="#111" stroke-width="0.35">Spine 150</text>
<rect x="588.4" y="701" width="430" height="42.5" fill="none" stroke="#0a0a0a" stroke-width="2.7"/>
<text x="612.2" y="728.5" font-family='"Noto Sans CJK JP","Noto Sans CJK SC","Liberation Sans",sans-serif' font-size="17.8" textLength="318" lengthAdjust="spacingAndGlyphs" fill="#111" stroke="#111" stroke-width="0.25">Step 1: Find Your Bow’s Pull in the Table</text>
<rect x="588.4" y="750.5" width="430" height="42.5" fill="none" stroke="#0a0a0a" stroke-width="2.7"/>
<text x="611.4" y="777.6" font-family='"Noto Sans CJK JP","Noto Sans CJK SC","Liberation Sans",sans-serif' font-size="17.8" textLength="350.5" lengthAdjust="spacingAndGlyphs" fill="#111" stroke="#111" stroke-width="0.25">Step 2: Determine the Length of Your Arrow</text>
<rect x="588.4" y="800" width="430" height="42.5" fill="none" stroke="#0a0a0a" stroke-width="2.7"/>
<text x="609.8" y="825.3" font-family='"Noto Sans CJK JP","Noto Sans CJK SC","Liberation Sans",sans-serif' font-size="17.8" textLength="369" lengthAdjust="spacingAndGlyphs" fill="#111" stroke="#111" stroke-width="0.25">Step 3: Find the correct codename in the table</text>
</svg>
</body></html>
